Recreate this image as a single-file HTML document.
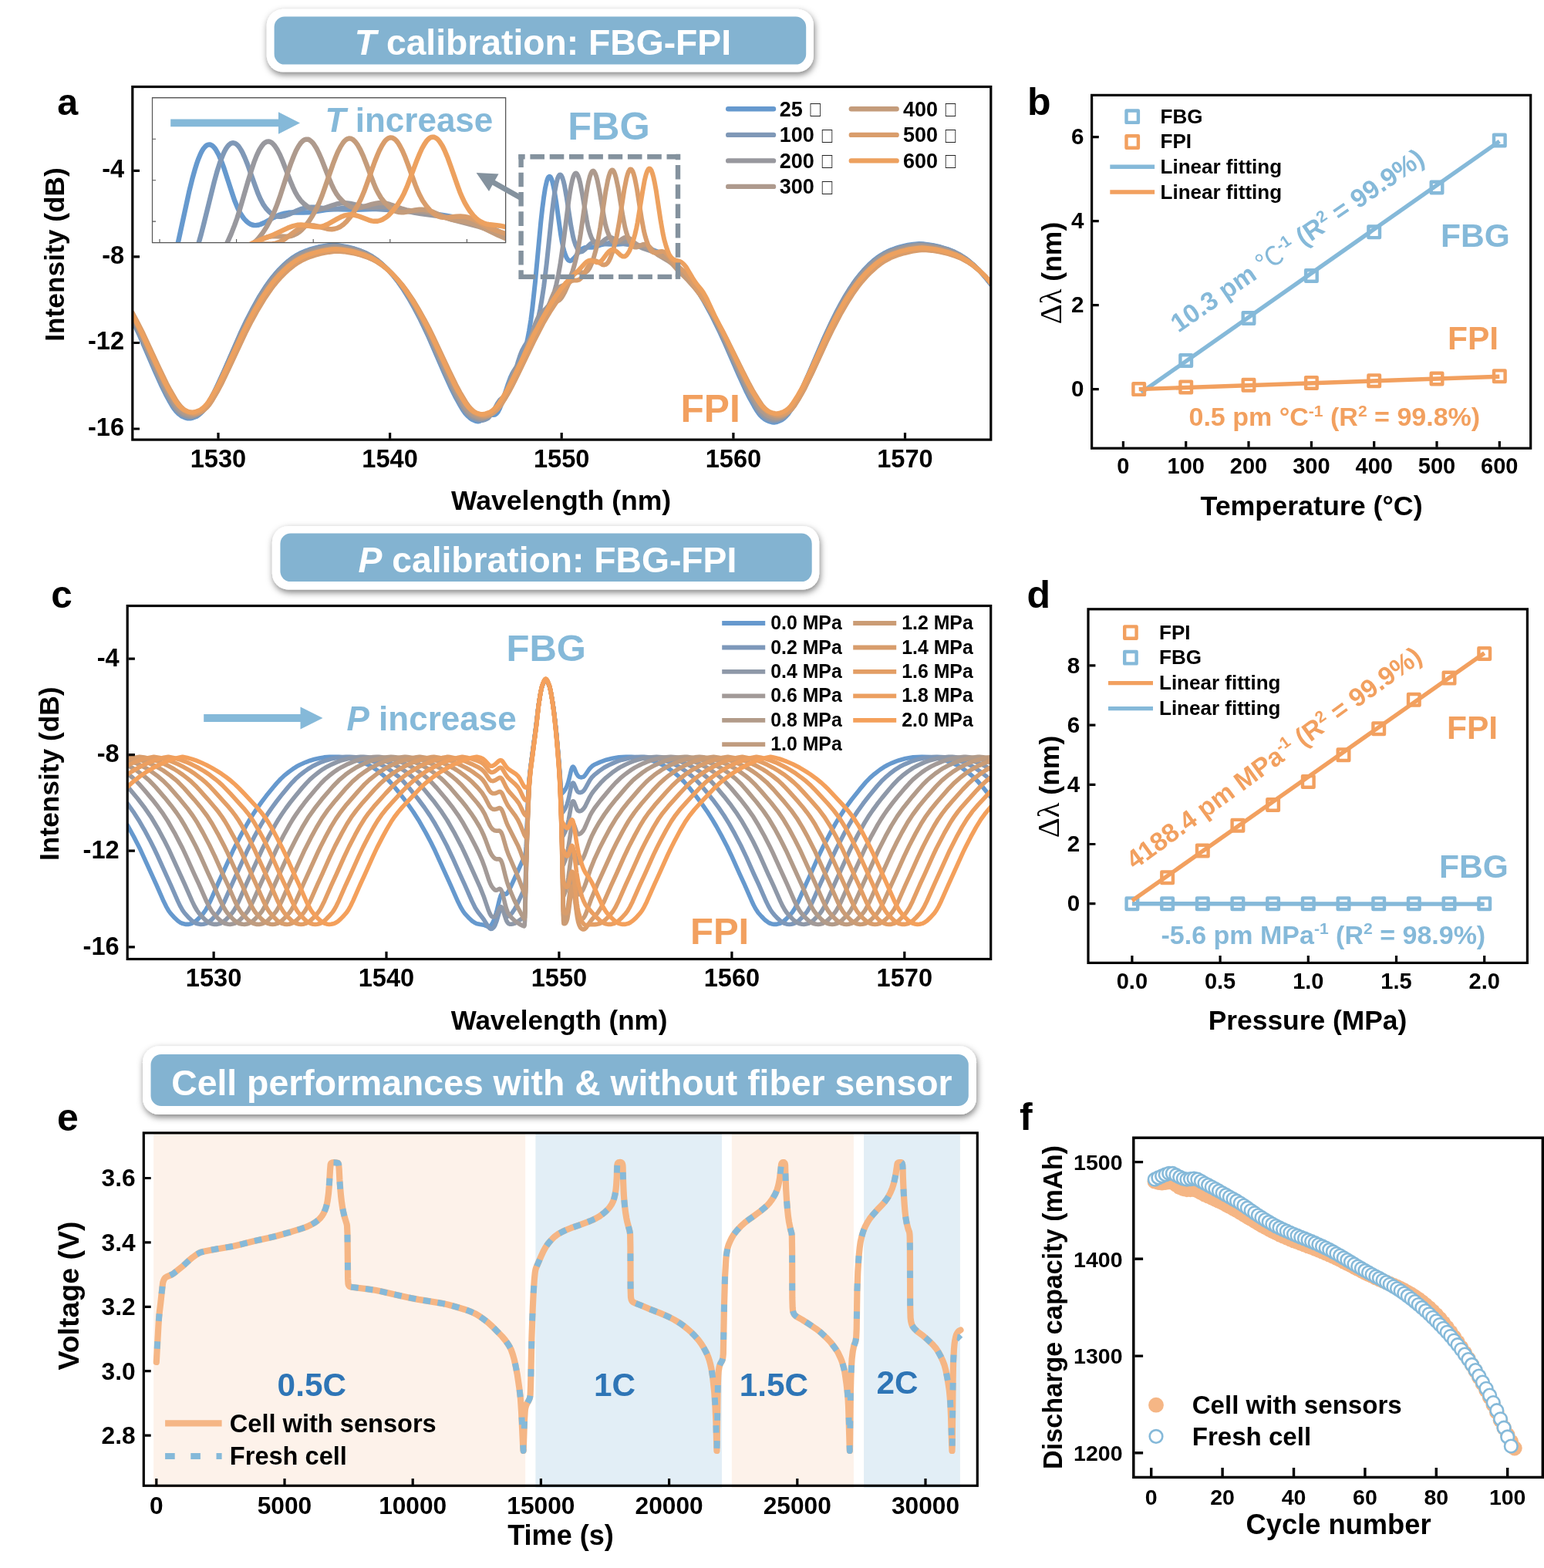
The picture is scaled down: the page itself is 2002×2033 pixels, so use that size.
<!DOCTYPE html>
<html lang="en"><head><meta charset="utf-8"><title>FBG-FPI calibration and cell performance</title>
<style>
html,body{margin:0;padding:0;background:#fff}
body{width:2002px;height:2033px;overflow:hidden}
svg{display:block}
text{font-family:"Liberation Sans",sans-serif;font-weight:bold}
</style></head><body>
<svg xmlns="http://www.w3.org/2000/svg" width="2002" height="2033" viewBox="0 0 2002 2033">
<rect width="2002" height="2033" fill="#fff"/>
<defs><filter id="sh" x="-5%" y="-40%" width="110%" height="190%"><feDropShadow dx="1.2" dy="3.6" stdDeviation="4.2" flood-color="#000" flood-opacity="0.5"/></filter></defs>
<clipPath id="ca"><rect x="171.8" y="112.5" width="1113" height="457.6"/></clipPath>
<g clip-path="url(#ca)">
<path d="M171.7 415.5L181 435.2L200.4 480.3L209.7 500.9L214.8 511.3L220.4 521.5L223.6 527L226 530.5L228.3 533.4L232 537L235.2 539.5L239.9 541.5L243.6 542.5L246.8 542.6L250.1 541.8L255.6 539.6L257.5 538.3L259.8 536.3L262.6 533.6L264.4 531.3L266.8 528L269.1 524.2L276.5 510.8L281.1 501.3L290.4 480.9L311.8 431.9L319.6 415.4L326.6 401.8L336.3 384.3L344.7 371.2L348.9 365.3L352.6 360.4L357.7 354.2L362.3 349.1L368.3 343.2L373.9 338.3L378.1 335.1L383.6 331.4L389.2 328.3L394.8 325.9L400.8 323.7L407.8 321.6L412.9 320.3L417.5 319.4L425.4 318.2L431.9 317.6L438.8 318.3L447.6 319.6L453.2 320.8L459.7 322.5L467.6 325.2L475 328.3L482 332.2L488.9 337L495.9 342.9L503.3 350.2L510.3 358.1L516.8 366.5L523.2 375.9L529.7 386.3L537.2 399.5L544.6 413.7L550.6 426.1L555.7 437.1L576.1 484L584.9 503.4L590 513.8L597.5 527.3L600.2 531.8L603 535.6L606.7 539.6L610 542.6L612.3 544.1L616.9 546.1L619.7 546.5L622 546L624.4 544.8L629.5 540.7L631.8 539.3L633.6 538.4L635.5 538L639.7 538.1L641.5 537.8L642.9 537.1L643.8 536.3L645.7 534L648 529.6L650.3 523.7L658.2 499.3L661.9 489.3L663.8 485.2L665.6 481.8L673 470.5L675.8 465.6L678.6 459.2L681.4 450.6L683.7 441.2L686 429.3L688.4 414.4L690.2 400.3L693.9 366.3L701.3 287.5L703.2 270.4L705.1 255.8L706.9 244.1L708.8 235.6L709.7 232.6L710.6 230.5L711.5 229.2L712.5 228.8L712.9 228.9L713.9 229.7L715.3 232.5L716.6 237.1L718.5 245.6L721.3 262.7L726.8 302.4L728.7 313.5L730.1 320.2L731.5 325.6L733.3 331.1L734.7 334.2L736.6 336.9L737.5 337.7L738.9 338.2L740.3 338L741.7 337.2L744.5 334.5L749.6 328L752.4 324.8L755.1 322.5L757.9 321.3L760.7 320.8L767.2 320.8L770.4 320.5L773.2 319.7L779.7 317.3L783.4 316.5L786.7 316.4L797.8 316.9L810.3 316L818.2 316.9L828 318.5L835.8 320.4L844.2 323L851.1 325.7L856.7 328.3L863.2 332.2L869.2 336.5L874.8 341.2L881.3 347.4L886.9 353.4L892.4 360.1L897.5 366.8L902.6 374.2L907.7 382.2L912.8 390.8L923 409.6L933.2 430.4L940.2 445.8L957.4 485.2L968 508.4L972.2 516.6L977.8 526.6L981 532L983.3 535.4L985.6 538.3L988.9 541.5L991.7 543.7L994 545L998.2 546.7L1000.9 547.4L1003.7 547.7L1006.5 547.3L1010.2 546L1013.5 544.6L1016.3 542.6L1019.5 539.6L1022.3 536.4L1025.1 532.4L1027.8 527.7L1035.3 513.9L1040.4 503.2L1049.2 483.4L1068.2 438.8L1077.5 418.7L1083.5 406.5L1090 394.2L1095.6 384.3L1100.7 376L1105.8 368.3L1110.4 361.8L1115.5 355.4L1120.6 349.6L1126.2 343.8L1132.2 338.2L1136.8 334.5L1141.9 331L1146.1 328.5L1150.3 326.3L1155.4 324.1L1160.5 322.2L1167 320.2L1173 318.7L1177.2 317.8L1184.1 316.7L1192 315.9L1196.7 316.3L1209.2 318L1219.4 320.3L1228.7 323.1L1237.5 326.6L1245.4 330.7L1252.8 335.6L1256.5 338.5L1261.1 342.5L1265.3 346.4L1269.5 350.5L1277.8 359.9L1284.8 368.9" fill="none" stroke="#6699CE" stroke-width="6.0" stroke-linecap="round" stroke-linejoin="round"/>
<path d="M171.7 414.3L181.4 434.9L200.9 479.6L210.2 500.1L215.3 510.4L223.6 525.2L226.4 529.4L228.7 532.3L232.4 535.9L235.7 538.3L240.3 540.3L244 541.3L247.3 541.3L250.5 540.6L256.1 538.4L258 537.1L260.3 535.2L263.1 532.4L264.9 530.2L267.2 526.9L269.6 523.1L277 509.8L281.6 500.4L290.9 480.1L312.2 431.5L320.1 415.1L327.1 401.6L336.3 385.1L340 379.1L345.1 371.3L349.3 365.4L353 360.6L358.1 354.5L362.8 349.4L368.3 344L373.9 339L378.5 335.5L383.6 332.1L389.2 329L394.3 326.7L400.8 324.3L407.8 322.2L413.3 320.8L418 319.9L425.8 318.8L432.3 318.1L439.3 318.8L447.6 320.1L453.2 321.2L459.7 322.9L467.6 325.5L475 328.6L481.5 332.1L488.5 336.7L495 342L502.4 349.1L508.4 355.6L514.9 363.5L521.9 373.2L528.8 384L535.8 396.1L543.7 410.8L549.7 422.9L555.7 435.7L576.6 483.2L585.9 503.4L591 513.7L596.5 523.7L599.8 529.2L602.6 533.2L604.9 535.9L609 539.8L612.3 542L617.9 544.2L621.6 545.1L623.4 545.1L625.3 545L629 544.1L631.3 543.1L632.7 542.2L634.1 540.9L635.9 538.7L639.7 532.9L645.2 522.7L648 518.8L650.3 516.7L654 514.6L655.9 513.2L657.7 511L659.1 508.6L661 504.6L663.3 498.1L671.7 469.2L674 462.1L675.8 457.3L677.7 453.1L680 449L682.3 445.5L687.4 438.7L690.2 434.2L693 428.2L695.8 420.2L698.1 411.6L700.4 400.8L702.7 387.6L705.1 371.9L708.8 341.5L715.7 276L717.6 260.9L719.4 248.1L721.3 238.1L723.1 231.1L724.1 228.8L725 227.3L725.5 226.8L726.4 226.6L726.8 226.7L727.8 227.6L729.2 230.4L730.6 234.8L732 240.7L734.7 256.1L740.3 292.6L743.1 307.1L744.5 312.4L746.3 317.8L748.2 321.8L750 324.6L751.4 325.8L752.8 326.4L754.2 326.3L755.6 325.7L758.4 323.5L763.5 318.1L765.8 316L768.1 314.5L770.4 313.7L772.3 313.6L774.2 313.8L780.6 315.6L783.9 316.1L787.1 315.7L792.2 314.3L794.6 313.9L796.9 313.7L799.2 313.9L807.5 315.7L829.8 319.8L839.1 322.2L846 324.5L853.9 327.7L860.4 331.1L867.4 335.6L873.9 340.8L879.9 346.4L884.5 351.1L889.6 356.8L894.7 363L899.8 369.9L905.4 378.2L910 385.5L914.7 393.5L924 410.5L934.2 431.2L941.1 446.4L957.8 484.3L968 506.3L972.7 515.3L981 529.8L983.3 533.3L985.6 536.2L989.4 539.8L992.1 542.1L994.5 543.4L999.1 545.1L1001.9 545.8L1004.2 545.9L1007 545.5L1010.7 544.3L1013.9 542.9L1016.7 541L1020 537.9L1022.7 534.8L1025.5 530.8L1028.3 526.2L1035.7 512.5L1040.8 501.9L1049.6 482.3L1068.7 438.1L1077.9 418.2L1084 406.1L1090.5 394L1096 384.2L1101.1 376L1106.2 368.3L1110.9 361.9L1116 355.6L1121.1 349.8L1126.6 344.1L1132.7 338.6L1137.3 334.9L1142.4 331.4L1146.6 328.9L1150.8 326.8L1155.9 324.6L1161 322.7L1167 320.9L1173 319.3L1177.7 318.4L1184.1 317.4L1192.5 316.5L1196.7 316.8L1209.7 318.5L1219.4 320.7L1228.7 323.4L1237.5 326.8L1244.9 330.7L1252.8 335.7L1256.5 338.5L1261.1 342.5L1269.5 350.4L1277.8 359.6L1284.8 368.4" fill="none" stroke="#7F98B7" stroke-width="6.0" stroke-linecap="round" stroke-linejoin="round"/>
<path d="M171.7 412.6L181.9 433.8L201.8 479L211.1 499.2L216.2 509.4L224.6 524.1L227.3 528.2L229.7 531L233.4 534.6L236.6 537L241.3 538.9L245 539.9L248.2 540L251.5 539.2L257 537L258.9 535.8L261.2 533.8L264 531.1L265.8 528.9L268.2 525.6L270.5 521.9L277.4 509.6L282.1 500.4L291.3 480.4L313.1 431.3L321 415.1L328 401.7L337.3 385.4L341 379.5L346.1 371.8L350.2 366L354 361.2L359.1 355.2L363.7 350.1L369.7 344.3L375.3 339.5L379.5 336.4L385 332.8L390.6 329.8L396.2 327.4L402.2 325.2L409.2 323.2L414.3 321.9L418.9 321L426.8 319.9L433.3 319.2L440.2 319.9L449 321.2L454.6 322.4L461.1 324.1L469 326.7L476.4 329.8L482.9 333.3L489.9 337.9L496.3 343.3L503.8 350.3L510.3 357.4L516.8 365.4L523.2 374.4L530.2 385.2L537.6 398L545 411.8L551.1 423.8L556.6 435.5L577.5 482.4L586.8 502.5L591.9 512.5L600.2 527.1L603 531.2L605.3 534.1L609.5 538L612.8 540.3L617.4 542.2L621.1 543.2L624.4 543.2L627.6 542.5L632.2 540.6L634.1 539.6L636.9 537.5L640.1 534.5L642.4 531.9L644.8 528.9L649.9 520.7L653.1 514.6L655.4 509.6L657.7 503.9L663.8 487.7L666.6 481.4L668.4 478.2L670.3 475.5L675.4 470L677.2 467.7L679.1 464.7L680.5 461.9L682.3 457.3L684.2 451.8L692.1 425.5L694.4 419L696.7 413.7L699 409.5L701.3 406.3L703.2 404.4L708.3 399.7L711.1 396.3L713.9 391.5L716.2 386.1L719 377.7L721.3 368.9L724.1 355.8L726.4 342.9L730.1 317.5L737.1 262.4L738.9 249.9L740.3 241.9L742.2 233.4L743.5 228.8L744.5 226.7L745.4 225.3L745.9 224.9L746.8 224.6L747.3 224.8L748.2 225.6L749.6 228.2L751 232.2L752.4 237.7L755.1 251.9L760.7 285.1L762.1 292.2L763.5 298.1L764.9 302.7L766.7 307.6L768.6 311.4L770.4 314.3L771.8 315.8L773.2 316.7L774.6 317L776 316.8L777.4 316.2L778.8 315.3L783.9 311L786.2 309.4L788.5 308.3L790.9 308L792.7 308.2L794.6 308.8L801.1 312.3L804.3 313.4L807.1 313.6L811.7 313.1L813.1 313.1L815.4 313.4L817.3 313.8L820.5 315.2L827.5 319L831.7 321.1L835.8 322.7L848.8 327.1L854.4 329.4L859 331.8L865.1 335.4L870.2 338.9L875.7 343.4L882.2 349.4L886.9 354.2L892 359.9L896.1 365L900.8 371.2L905.9 378.6L910 385.1L914.7 392.8L920.2 402.6L927.7 416.5L936 433.3L958.3 482.5L968.5 504.2L973.1 513.1L981.5 527.5L984.3 531.6L986.6 534.5L989.8 537.6L992.6 539.9L994.9 541.3L999.6 543.1L1002.3 543.8L1005.1 544L1008.4 543.5L1012.1 542.2L1014.9 541L1017.6 539L1020.9 536L1023.7 533L1026.5 529L1029.2 524.4L1036.2 511.8L1041.8 500.5L1050.6 481.1L1069.6 437.6L1078.4 418.8L1084.4 406.9L1090.5 395.7L1096.5 385.1L1101.6 376.9L1106.7 369.4L1111.3 363L1116.4 356.7L1121.5 350.9L1126.6 345.7L1133.1 339.8L1137.8 336L1142.9 332.6L1147 330.1L1151.2 327.9L1155.9 325.9L1160.5 324.2L1165.6 322.6L1172.6 320.7L1177.2 319.7L1182.8 318.8L1190.6 317.8L1193.4 317.6L1194.8 317.7L1201.3 318.3L1209.2 319.4L1218.5 321.3L1228.7 324.2L1237.5 327.5L1245.4 331.4L1253.3 336.3L1261.1 342.5L1269.5 350.2L1277.8 359.2L1284.8 367.8" fill="none" stroke="#98989E" stroke-width="6.0" stroke-linecap="round" stroke-linejoin="round"/>
<path d="M171.7 410.1L177.7 422L183.3 433.6L203.7 479.2L212.5 498L217.6 508.1L226 522.6L228.7 526.7L231.1 529.5L234.8 533.1L238 535.5L242.7 537.4L246.4 538.4L249.1 538.6L252.4 538L258 535.9L259.8 534.8L262.1 533L265.4 529.9L267.2 527.8L269.6 524.6L271.9 521L279.3 508L283.9 498.9L293.2 479.2L314.5 431.9L322.4 415.9L329.4 402.7L339.1 385.9L342.8 380L347.9 372.5L352.1 366.8L356.3 361.6L360.9 356.2L365.6 351.3L371.6 345.6L377.1 340.9L381.3 337.8L386.9 334.4L392.5 331.4L398 329.1L404.5 326.8L411.5 324.9L417 323.6L422.1 322.7L429.6 321.7L435.1 321.2L442.1 321.9L450.9 323.2L456.5 324.4L463.4 326.2L471.3 328.8L478.3 331.7L484.7 335.2L491.2 339.5L497.7 344.7L505.2 351.6L511.6 358.5L518.1 366.4L524.6 375.3L531.6 385.8L538.5 397.6L546.4 411.9L552.5 423.7L558 435.2L578.9 481.4L588.2 501.1L593.3 511.1L601.6 525.5L604.4 529.5L607.2 532.9L610.9 536.3L614.1 538.6L619.2 540.7L623 541.6L626.2 541.5L629.5 540.8L635 538.5L636.9 537.3L639.2 535.4L642 532.7L643.8 530.5L646.1 527.3L648.5 523.7L657.7 507.2L671.7 479L677.2 465.9L686 442.5L689.3 435.3L691.1 432.1L693 429.6L698.6 424.4L700.4 422.3L702.3 419.6L704.1 416.1L707.4 408.2L714.3 388.7L716.2 384.2L718 380.4L720.4 376.8L721.7 375.1L723.1 373.8L725.9 372L731.5 369.5L734.3 367.5L735.7 365.9L737.1 364L739.8 358.6L742.6 351.2L744.9 343.2L747.3 333.8L749.6 322.7L752.8 303.4L759.8 254.4L761.6 243.2L763 236L764.9 228.6L766.3 224.7L767.7 222.3L768.6 221.7L769.1 221.6L769.5 221.7L770.4 222.5L771.8 224.9L773.2 228.8L774.6 234L777.4 247.9L783.4 283.2L784.8 289.9L786.2 295.5L787.6 300L789.5 304.8L791.3 308.6L793.2 311.6L794.6 313.2L796 314.2L797.3 314.6L798.7 314.6L800.1 314.1L801.5 313.4L806.2 310.1L808.5 308.7L810.8 307.9L813.1 307.8L815 308.5L816.8 309.6L823.8 315.5L827 317.5L830.3 318.6L836.8 319.6L840 320.9L843.7 323.1L853.5 330.6L866 338.1L872 342.3L876.7 346L882.2 351L886.4 355.1L891 360L895.7 365.3L899.4 369.9L908.2 382.1L915.6 393.7L924.4 408.9L931.4 421.9L938.3 435.8L959.7 481.8L968.9 501L974 510.8L981 522.7L983.8 527L986.1 530.3L988.4 533L991.2 535.6L993.5 537.5L995.8 539L1001.9 541.2L1005.1 541.9L1008.4 541.8L1011.6 540.9L1016.3 539.1L1019 537.2L1022.3 534.3L1024.6 531.9L1027.4 528.2L1032.5 519.8L1037.6 510.7L1040.4 505.3L1051 482.6L1068.7 442.9L1075.6 427.8L1081.6 415.6L1086.8 405.8L1092.8 394.9L1097.9 386.2L1103.4 377.4L1109.5 368.7L1114.6 362L1120.6 354.9L1126.6 348.6L1133.6 342.2L1139.2 337.8L1144.7 334.1L1148.9 331.7L1152.6 329.8L1157.2 327.8L1161.9 326.1L1167 324.5L1173.5 322.8L1178.6 321.6L1183.7 320.8L1190.2 320L1195.3 319.5L1201.3 320.1L1208.3 321L1213.4 321.8L1218.9 323L1229.1 325.7L1238.4 329L1245.8 332.5L1253.7 337.2L1261.1 342.8L1269.9 350.6L1277.8 358.7L1284.8 367" fill="none" stroke="#AE9A8D" stroke-width="6.0" stroke-linecap="round" stroke-linejoin="round"/>
<path d="M171.7 406.6L178.2 418.8L185.1 432.8L206.5 479.2L215.8 498.6L220.4 507.4L228.3 520.8L231.1 524.9L233.4 527.8L237.1 531.3L240.3 533.7L244.5 535.5L248.7 536.7L251.5 537L254.7 536.5L260.7 534.3L262.6 533.2L264.9 531.4L268.2 528.4L270 526.3L272.3 523.2L274.7 519.6L282.1 506.9L286.7 498.1L296 478.8L317.3 432.6L325.2 417L332.2 404.2L341.9 387.8L345.6 382.1L350.7 374.8L354.9 369.2L359.1 364.1L364.2 358.4L368.8 353.7L374.8 348.2L380.4 343.6L385 340.4L390.6 337.1L396.2 334.3L402.2 332L408.2 330L415.6 328L420.7 326.9L425.8 326.1L431.9 325.3L437.4 324.8L444.9 325.5L453.7 326.8L459.7 328.1L467.1 330L474.5 332.5L481.5 335.4L488 338.8L494.5 343.1L501 348.2L508.4 355L514.9 361.9L521.4 369.6L527.9 378.4L534.8 388.7L542.3 401.1L549.7 414.4L555.7 425.9L560.8 436.2L581.7 481.3L591 500.5L596.1 510.2L604.4 524.2L607.2 528.1L609.5 530.9L613.7 534.7L616.9 536.9L621.6 538.7L625.3 539.7L628.5 539.7L631.8 539.1L636.4 537.4L638.7 536.2L641.5 534.1L645.2 530.6L647.5 527.8L650.3 523.9L658.2 510.9L663.3 501.4L671.2 485.5L687.9 450.2L701.8 422.7L710.6 403.5L712.5 399.9L714.3 397L715.7 395.2L717.6 393.3L719.4 392.1L723.1 390.3L725 389.2L726.8 387.5L728.2 385.8L730.1 382.9L732 379.4L739.8 362.3L742.2 358.3L744.5 355.5L746.3 354L748.6 353.1L751 352.9L756.5 353.5L757.9 353.4L759.3 352.9L761.2 351.7L762.6 350.2L764 348.3L765.3 345.8L767.7 340.5L770 333.5L772.8 323.4L775.1 313.1L778.3 294.8L785.3 248.4L788.1 233.7L789.5 228.2L790.9 224.1L792.2 221.5L793.2 220.7L793.6 220.5L794.6 220.7L796 222.4L797.3 225.6L798.7 230.3L801.5 243.3L807.5 279.9L810.3 294.3L812.2 301.5L814 307L816.8 313.5L818.7 316.8L819.6 318.1L821 319.5L822.4 320.3L823.8 320.6L825.2 320.5L826.6 320.1L831.7 317.7L833.5 317L835.8 316.8L838.2 317.4L840 318.4L841.9 319.9L848.8 327L852.1 329.6L854.9 331.1L861.3 333.3L864.1 334.9L866.4 336.7L868.8 339L879 350.5L892 363.5L899.8 372.2L907.3 381.7L914.7 392.3L922.1 404L930 417.5L936 428.5L941.6 439.3L962.5 482.3L971.3 499.8L976.4 509.2L982.9 519.9L988 527.5L990.3 530.2L992.6 532.5L995.4 534.8L997.7 536.4L999.6 537.3L1003.7 538.8L1007.4 539.6L1010.2 539.6L1013.9 538.8L1018.6 537L1021.4 535.3L1024.1 533L1026.9 530.2L1029.7 526.7L1034.8 518.7L1039.9 509.8L1043.2 503.7L1053.8 481.6L1071 444L1078.4 428.3L1089.1 407.8L1095.1 397.1L1100.2 388.6L1105.8 380L1111.8 371.5L1116.9 364.9L1122.5 358.5L1128.5 352.3L1135.4 346L1141 341.5L1146.6 337.8L1154.5 333.5L1162.3 330.3L1167 328.8L1172.6 327.2L1182.3 325L1191.1 323.8L1198.1 323.2L1208.3 324.2L1218.5 325.8L1229.6 328.5L1238.9 331.5L1246.8 334.9L1254.6 339.3L1261.6 344.1L1270.4 351.4L1277.4 358.1L1284.8 366.2" fill="none" stroke="#C49C7B" stroke-width="6.0" stroke-linecap="round" stroke-linejoin="round"/>
<path d="M171.7 405.5L178.6 418.4L185.6 432.2L206.9 478.1L216.2 497.3L220.9 506.1L228.7 519.5L231.5 523.5L234.3 526.9L238 530.4L240.8 532.4L242.2 533.2L245 534.3L249.1 535.5L251.9 535.8L255.2 535.3L261.2 533.2L263.1 532.2L265.4 530.4L268.6 527.5L270.5 525.5L272.8 522.4L275.1 518.9L282.5 506.4L287.2 497.6L296.4 478.5L318.2 431.9L326.1 416.5L333.1 403.8L342.8 387.6L351.6 374.8L355.8 369.3L360 364.2L364.6 359.1L369.3 354.4L375.3 348.9L380.9 344.4L385 341.5L391.1 337.9L396.6 335.2L402.7 332.8L408.7 330.8L416.1 328.9L421.2 327.8L426.8 326.9L433.3 326.1L438.4 325.7L445.8 326.4L454.6 327.7L460.6 328.9L468.1 330.9L475.5 333.3L482.4 336.2L488.9 339.7L495.4 343.9L501.9 349.1L509.3 355.8L515.8 362.6L521.9 369.7L528.3 378.4L535.3 388.6L542.7 400.8L550.1 413.9L556.2 425.3L561.7 436.5L582.1 480.1L591.4 499.1L596.5 508.7L604.9 522.7L607.7 526.6L610.4 529.8L614.1 533.2L617.4 535.5L622.5 537.5L626.2 538.3L629.5 538.3L632.7 537.6L636.9 536.2L638.7 535.3L641 533.7L644.3 530.9L646.1 529.1L648.5 526.3L654 517.9L660.1 507.8L665.2 498.2L673.5 481.5L693.5 440L704.1 419.6L708.8 411.5L712.9 404.6L725.5 385.7L733.3 372.6L736.1 368.5L738.9 365.6L741.2 364.2L743.5 363.6L747.3 363.6L749.1 363.3L751 362.6L752.8 361.2L754.2 359.7L756.1 357L761.6 347.3L764 343.6L766.3 340.7L768.6 338.9L769.5 338.5L770.9 338.2L773.2 338.5L775.1 339.4L780.6 342.8L782 343.3L783.4 343.4L785.3 342.9L786.7 342L788.1 340.5L789.5 338.4L791.8 333.6L794.6 325.8L797.3 316L799.7 306.1L802.9 288.1L809.4 246L812.2 231.8L813.6 226.4L815 222.5L816.4 220.2L816.8 219.7L817.8 219.4L818.7 219.8L820.1 221.7L821.5 225.2L822.9 230.1L824.2 236.3L826.1 246.3L832.1 284.6L834.9 299.5L836.8 306.9L838.6 312.9L840.9 319L842.8 322.7L843.7 324.2L845.1 325.8L846.5 326.9L847.9 327.5L849.3 327.6L850.7 327.5L855.8 326.2L858.1 326L860.4 326.4L862.7 327.6L864.6 329.2L866.4 331.1L872.9 339.4L876.2 343.1L879 345.6L886.4 351.1L888.7 353.4L891 356.3L894.3 361L903.6 375.5L917.5 395.8L924 406.2L930 416.5L936.5 428.2L942 438.8L962.9 481.1L971.7 498.3L976.8 507.7L982.4 516.7L988 525.1L990.3 527.9L992.1 529.8L995.4 532.6L998.2 534.6L1000 535.5L1003.7 536.8L1007.4 537.8L1010.7 537.9L1014.4 537.1L1019 535.4L1021.8 533.8L1025.1 531.1L1027.8 528.3L1030.6 524.8L1036.2 516L1040.8 508L1044.1 502L1054.3 481L1071.9 442.8L1078.9 428.4L1089.5 408L1095.6 397.4L1100.7 389L1105.8 381.1L1112.3 372L1117.4 365.5L1122.9 359.2L1129 353L1135.9 346.7L1141.5 342.3L1147 338.6L1154.9 334.3L1162.8 331.1L1172.6 328.2L1182.8 325.9L1191.6 324.6L1198.5 324L1208.3 324.9L1218.5 326.5L1229.6 329.1L1238.9 332.1L1246.8 335.3L1254.6 339.6L1261.6 344.2L1270.4 351.4L1277.4 358L1284.8 365.9" fill="none" stroke="#D99D6B" stroke-width="6.0" stroke-linecap="round" stroke-linejoin="round"/>
<path d="M171.7 408.2L177.7 419.7L183.7 431.9L204.2 476.2L213.4 495.6L218.5 505.3L226.4 518.7L229.2 522.7L231.5 525.5L235.2 529L238.5 531.4L243.1 533.3L246.8 534.3L249.6 534.5L252.9 534L258.9 531.8L260.7 530.7L263.1 528.9L265.8 526.3L267.7 524.3L270 521.2L272.8 517L279.8 505.1L284.4 496.3L293.7 477.1L315.5 430.1L323.3 414.6L330.3 401.8L340 385.4L348.9 372.5L353 367L357.2 361.9L361.8 356.7L366.5 352L372.5 346.4L378.1 341.9L382.3 338.9L388.3 335.3L393.4 332.7L399.4 330.3L405.4 328.3L412.9 326.3L418 325.1L423.1 324.3L430 323.3L435.6 322.9L442.5 323.5L451.4 324.8L457.4 326L464.3 327.8L472.2 330.4L479.2 333.2L485.7 336.7L492.2 340.8L498.7 345.9L506.1 352.7L512.6 359.4L519.1 367.1L525.6 375.8L532.5 386.1L539.9 398.3L547.4 411.5L553.4 423L559 434.2L579.4 478.1L588.6 497.3L593.7 507L602.1 521L604.9 525L607.7 528.3L611.4 531.7L614.6 534L619.2 535.9L623 536.9L626.2 537L629.5 536.4L635.5 534.2L637.8 532.7L640.1 530.8L642.9 528.1L644.8 526L647.5 522.2L650.3 517.8L656.8 506.9L661.9 497.2L670.7 479.2L691.1 435.9L697.2 424L703.7 411.9L712 397.4L719.4 385.7L727.3 374.6L734.3 366L740.3 359.7L750.5 350.1L758.4 341.5L761.2 339.1L763.5 337.9L765.8 337.5L768.1 338L773.7 340.2L775.5 340.3L777.4 339.8L779.3 338.6L781.1 336.7L786.7 329.3L789 326.6L790.9 325L792.2 324.2L793.2 323.9L794.6 323.8L796 324L797.3 324.7L799.7 326.3L804.8 330.9L806.6 332.1L808 332.6L809.9 332.5L811.3 331.8L812.7 330.6L814.5 328.1L816.4 324.7L818.7 319L821 312.2L823.3 304L825.2 295.9L826.6 288.7L833.1 248.7L835.8 233.8L837.7 226.3L839.1 222.2L840.5 219.6L841.4 218.8L841.9 218.6L842.8 218.8L843.3 219.1L844.7 221.2L846 224.9L847.4 230L848.8 236.5L850.7 246.8L856.7 286.6L859.5 302.5L861.3 310.8L863.7 319.3L866 326L867.8 330.1L870.2 333.7L872.5 335.9L875.3 337.3L880.4 338.6L882.7 339.5L885 341.1L887.3 343.3L889.2 345.6L891 348.4L898 360.3L901.2 365.4L904 369.2L909.6 376L911.9 379.3L914.2 383.2L917 388.5L927.7 411.4L941.6 439.2L960.6 479L968.9 495.7L974 505.2L982.9 519.6L985.6 523.6L988 526.4L991.7 530L994.9 532.5L997.2 533.7L1000.9 535.1L1004.7 536L1007.9 536.2L1011.6 535.4L1016.3 533.7L1019 532.1L1022.3 529.5L1025.1 526.7L1027.8 523.2L1033.4 514.4L1038.1 506.3L1041.3 500.3L1052 478.3L1069.1 440.9L1076.1 426.3L1082.1 414.5L1087.2 405L1093.2 394.4L1098.3 385.9L1103.9 377.4L1109.9 369L1115 362.5L1121.1 355.7L1127.1 349.5L1134.5 343L1140.1 338.7L1145.7 335.1L1149.8 332.8L1153.5 331L1158.2 329.1L1162.8 327.5L1167.9 325.9L1174.4 324.3L1179 323.3L1184.1 322.5L1190.2 321.7L1195.7 321.2L1207.8 322.4L1213.4 323.3L1218.9 324.4L1229.6 327.1L1238.9 330.3L1246.3 333.7L1254.2 338.3L1261.1 343.3L1269.9 350.8L1277.4 358.2L1284.8 366.6" fill="none" stroke="#EDA15F" stroke-width="6.0" stroke-linecap="round" stroke-linejoin="round"/>
</g>
<clipPath id="ci"><rect x="197.5" y="126.7" width="458.1" height="187.9"/></clipPath>
<rect x="197.5" y="126.7" width="458.1" height="187.9" fill="#fff" stroke="#555" stroke-width="1.1"/>
<g clip-path="url(#ci)">
<path d="M182.1 419.5L187.4 415.7L191.9 411.9L195.9 407.6L200 402.5L203.7 396.8L207.3 390.2L210.6 383.2L213.8 375.2L216.7 367.2L219.9 357L223.2 345.7L226.4 333.2L231.7 310.7L245.1 249.1L249.2 232.4L252.9 219.2L255.3 211.5L257.3 205.9L259.4 200.9L261.4 196.7L263.8 192.7L265.9 190.2L267.9 188.5L269.9 187.6L271.6 187.4L273.2 187.7L274.8 188.6L276.9 190.3L278.5 192.1L280.1 194.5L283.8 201.3L287 208.9L290.3 217.7L300.9 250.3L304.1 259.7L307.8 268.8L311 275.5L314.7 281.3L316.7 283.9L318.8 286.1L320.8 288L322.8 289.5L324.9 290.7L326.9 291.5L329.3 292L331.8 292.1L334.6 291.8L337.5 291L342.7 288.7L354.9 282L361 279.1L364.3 277.9L367.6 277L374.1 275.8L380.2 275.4L393.6 275.5L400.5 275.3L407 274.5L422.5 272L431.8 271.3L438.3 271.3L461.9 271.8L490.4 270.9L505 271.6L531.5 273.5L556.7 276.3L567.7 277.8L578.6 279.6L588 281.4L596.9 283.4L606.3 285.8L615.6 288.5L623.4 291L631.5 293.9L642.5 298.3L651.4 302.1L660.8 306.4L670.1 311.1" fill="none" stroke="#6699CE" stroke-width="6.4" stroke-linecap="round" stroke-linejoin="round"/>
<path d="M182.1 414.8L185.8 410.2L189 406.5L192.3 403.3L195.5 400.6L202 396L213.4 389.5L217.5 387L221.5 384L225.6 380.5L229.7 376.2L233.8 371L237.4 365.4L241.1 358.9L245.1 350.3L249.2 340.3L253.3 328.9L257.3 316L260.6 304.5L263.8 292.1L277.7 236L281.3 222.8L285 211.2L289.1 200.6L291.1 196.2L293.1 192.6L295.2 189.7L297.2 187.5L298.8 186.3L300.9 185.4L302.5 185.3L304.1 185.6L305.7 186.4L307.4 187.6L309 189.3L310.6 191.4L312.2 193.9L314.3 197.6L317.5 204.6L320.8 212.7L331 241.4L334.6 251.1L337.9 258.6L341.1 264.6L344.8 270L348.8 274.4L351.3 276.5L353.3 278L355.4 279.1L357.4 280L359.8 280.6L362.3 280.9L365.1 280.7L368 280.2L373.7 278.3L385.4 273L391.1 270.8L397.2 269.2L403.3 268.6L409.9 268.8L424.1 270.6L431 271L437.9 270.7L454.2 268.9L458.7 268.7L463.9 268.8L500.1 271.9L535.1 274.6L558.3 277.3L576.6 280.1L592.5 283.1L608.3 287L622.6 291.2L638 296.8L654.3 303.6L670.1 311.2" fill="none" stroke="#7F98B7" stroke-width="6.4" stroke-linecap="round" stroke-linejoin="round"/>
<path d="M182.1 421.1L189 418L193.5 415.5L197.6 412.5L201.6 408.7L204.9 405L208.5 400.2L220.7 382.4L225.6 375.8L230.9 369.5L236.2 364.3L240.7 360.8L245.5 357.8L250.4 355.6L262.6 350.7L266.3 348.9L269.9 346.6L274 343.6L278.1 339.7L281.7 335.6L285.4 330.7L290.3 322.9L294.8 314.3L299.6 303.6L304.1 292.2L307.4 283L311 271.4L321.6 235L325.7 221.6L329.3 210.7L332.6 202.2L336.2 194.4L339.5 189.2L341.5 186.7L343.2 185.2L344.8 184.2L346.4 183.6L348 183.4L349.7 183.7L351.3 184.4L352.9 185.5L354.5 187.1L356.2 189L359.8 194.6L363.1 201L366.3 208.5L376.1 233.7L379.8 242.6L383 249.4L386.3 255L389.9 259.9L394.4 264.4L399.3 268.2L401.7 269.7L403.8 270.6L406.2 271.3L409 271.8L411.9 271.8L414.7 271.5L420 270.1L431 266.2L435.9 264.7L441.2 263.6L446 263.2L450.1 263.4L454.2 263.9L469.2 267.3L476.1 268.4L483.1 268.6L493.2 268.2L496.9 268.2L502.2 268.4L507.5 269.1L514 270.3L528.2 273.7L536.7 275.5L545.7 277.1L568.1 280.2L581.5 282.4L594.9 285L608.3 288.3L623 292.5L637.6 297.6L654.3 304.3L670.1 311.6" fill="none" stroke="#98989E" stroke-width="6.4" stroke-linecap="round" stroke-linejoin="round"/>
<path d="M182.1 425L192.3 414.7L210.6 393.8L217.1 387.1L221.5 383.5L226 380.6L230.1 378.6L239 375.2L242.7 373.6L246.8 371.3L250.8 368.3L254.9 364.6L259 360.2L271.6 345L276 339.9L280.5 335.4L284.6 332L287.4 330L290.3 328.4L293.1 327L296 326L301.3 324.5L314.3 322.1L317.9 321L321.2 319.7L324.9 317.8L328.5 315.2L332.2 312.1L335.4 308.7L340.7 301.9L346 293.6L351.3 283.7L355.8 274L359 265.9L362.7 255.7L373.2 223.3L376.9 212.6L380.6 203L383.8 195.6L387.1 189.5L390.3 184.9L392 183.2L393.6 181.9L395.2 181.1L396.4 180.7L398.1 180.6L399.7 180.8L401.3 181.5L403.3 183L405 184.6L406.6 186.6L410.3 192.3L413.1 197.9L416.4 205.2L426.5 231L429.8 238.8L433 245.7L436.3 251.3L439.9 256.3L444.4 261L448.9 264.8L453.4 267.5L455.8 268.5L458.7 269.3L461.5 269.6L464.3 269.6L467.2 269.2L470 268.5L482.2 264.9L487.9 263.6L491.2 263.1L494.4 263L496.9 263.1L500.1 263.6L505.8 265.2L520.1 270.3L527 272.3L534.3 273.4L550.6 274.5L555 275.2L559.5 276.2L565.6 278L579.4 282.6L586.8 284.9L621.3 293.9L632.3 297.4L645.3 302.2L657.9 307.3L670.1 312.7" fill="none" stroke="#AE9A8D" stroke-width="6.4" stroke-linecap="round" stroke-linejoin="round"/>
<path d="M182.1 430.4L203.2 411L216.3 399.5L247.2 373.3L266.3 355.4L270.8 351.7L274.8 348.8L278.9 346.5L283 344.9L287 343.7L298.8 341.1L302.9 339.7L306.6 337.8L310.6 335.1L314.7 331.8L327.7 319.4L333 314.8L337.9 311.3L342.7 308.7L347.6 307.1L352.5 306.4L357.4 306.3L369.6 306.8L373.2 306.6L376.5 306.1L380.6 304.9L384.2 303.2L387.9 300.9L391.1 298.1L395.6 293.4L400.5 286.9L405.4 279.3L409.9 271.3L413.9 262.6L417.6 253.5L421.2 243.4L431.8 212.6L435.1 204L437.9 197.3L441.6 190.1L444.8 185.1L446.9 182.7L448.5 181.3L450.1 180.3L451.7 179.7L453 179.5L454.6 179.6L456.2 180.2L457.8 181.1L460.7 183.8L463.9 188.2L467.2 194.1L470.9 202.1L474.5 211.2L484.7 238L487.5 244.7L490.4 250.4L494 256.5L498.5 262.2L501.4 265.3L504.6 268.4L507.1 270.4L509.5 272L511.9 273.4L514.8 274.4L517.6 275.1L520.5 275.3L523.3 275.2L526.2 274.9L538 272.5L543.7 271.8L546.9 271.7L549.8 271.9L552.6 272.3L555.9 273L562 275.1L576.2 281.4L583.1 283.8L590 285.4L605.5 287.7L610.4 288.9L614.8 290.4L623 293.8L646.1 305L670.1 315.2" fill="none" stroke="#C49C7B" stroke-width="6.4" stroke-linecap="round" stroke-linejoin="round"/>
<path d="M182.1 431.2L205.7 410L228.5 389.9L240.3 380L253.7 369.3L263.4 362L273.6 354.9L282.1 349.2L300 337.8L318.3 324.9L324.9 320.9L330.1 318.5L335.4 317.1L340.3 316.5L349.7 316.4L353.3 316.2L357.4 315.6L361 314.4L364.7 312.7L368.8 310.3L381.8 300.5L387.1 297L392 294.5L396.8 292.8L401.7 292.2L406.6 292.4L411.5 293.3L423.7 296.5L426.9 297L430.2 297.2L433.8 296.8L437.5 295.7L441.2 294L444.4 291.7L446.9 289.6L449.3 287.2L454.2 281.3L459.5 273.7L464.3 265.4L468 258L472.1 248.3L475.7 238.4L485.9 209.8L489.2 201.5L492 195L495.3 188.7L498.5 183.8L500.1 181.9L501.8 180.4L503.4 179.3L505 178.7L506.6 178.4L508.3 178.6L509.9 179.2L511.5 180.2L513.2 181.7L514.8 183.5L516.4 185.7L518.4 189L521.7 195.3L525.4 203.8L529 213.4L538.8 240.3L541.6 247.4L544.5 253.6L548.1 260.3L552.6 266.8L557.5 272.6L562 276.7L564.8 278.7L567.7 280.2L570.9 281.3L574.2 281.9L577 282L579.9 282L591.6 280.7L596.9 280.5L602.2 280.9L607.5 282L611.6 283.5L615.6 285.3L630.7 293.6L637.6 296.9L644.1 299.3L660 304.3L664.9 306.4L670.1 309.1" fill="none" stroke="#D99D6B" stroke-width="6.4" stroke-linecap="round" stroke-linejoin="round"/>
<path d="M182.1 423.4L200.4 406.6L226.8 382.9L243.5 369.1L259 357.1L278.1 343.4L286.2 338.1L294.3 333L303.7 327.5L311.8 322.9L319.2 319.2L327.7 315.2L336.2 311.6L354.5 304.4L373.2 295.6L380.2 293L385.4 291.8L390.3 291.5L395.6 292L405 293.6L408.6 294.1L412.7 294.2L416.8 293.7L420.8 292.5L424.9 290.7L437.5 283.6L442 281.3L446 279.7L449.7 278.8L452.1 278.4L455 278.3L457.8 278.6L460.7 279.1L465.6 280.5L478.2 285.3L481.8 286.3L485.1 286.8L488.8 286.8L492.4 286L495.7 284.8L499.3 282.6L501.8 280.9L504.2 278.8L509.5 273.1L515.2 265.7L520.1 258.1L523.7 251.1L527.4 242.8L531 233.4L540.8 207.2L544.1 199.2L546.9 193L550.2 187.1L553.4 182.4L555 180.7L556.7 179.3L558.3 178.3L559.5 177.9L561.1 177.6L562.8 177.8L564.4 178.4L566.4 179.7L568.1 181.2L570.1 183.7L573.8 189.5L577 196.2L580.7 205.1L584.3 215.1L593.7 241.9L596.5 249.4L599.4 256.2L602.6 262.8L606.3 269.2L609.9 274.6L614 279.7L616.9 282.6L620.1 285.4L623.4 287.5L627 289.2L630.3 290.3L633.5 291L648.2 292.7L655.1 294.2L658.8 295.4L662.4 297L666.1 299L670.1 301.5" fill="none" stroke="#EDA15F" stroke-width="6.4" stroke-linecap="round" stroke-linejoin="round"/>
</g>
<path d="M207 314.6v-4.6M306.6 314.6v-4.6M406.2 314.6v-4.6M505.8 314.6v-4.6M605.4 314.6v-4.6M197.5 180.3h4.6M197.5 233.7h4.6M197.5 287.1h4.6" stroke="#555" stroke-width="1.1" fill="none"/>
<rect x="197.5" y="126.7" width="458.1" height="187.9" fill="none" stroke="#555" stroke-width="1.1"/>
<path d="M221.2 154.6H361V145.2L389 159.4L361 173.8V164.2H221.2Z" fill="#85B9D9"/>
<text x="421.6" y="171.2" font-size="44" fill="#85B9D9"><tspan font-style="italic">T</tspan> increase</text>
<g stroke="#84929E" stroke-width="6.4" stroke-dasharray="18.6 6.7" fill="none"><path d="M672.3 203.2H882.1" stroke-dashoffset="10.2"/><path d="M675.6 200.2V362" stroke-dashoffset="1.8"/><path d="M675.5 358.9H876" stroke-dashoffset="0"/><path d="M879 199.8V361.9" stroke-dashoffset="11.2"/><path d="M879 355.8V361.9" stroke-dasharray="none"/></g>
<path d="M676.5 257.3L630 231" stroke="#84929E" stroke-width="7" fill="none"/>
<path d="M617.6 224L646.5 225.5L634 248Z" fill="#84929E"/>
<text x="736.2" y="181.2" font-size="50.5" fill="#85B9D9">FBG</text>
<text x="882.5" y="546.5" font-size="49.7" fill="#F2A05F">FPI</text>
<rect x="171.8" y="112.5" width="1113" height="457.6" fill="none" stroke="#000" stroke-width="3.2"/>
<path d="M283 568.7v-7.8M505.6 568.7v-7.8M728.2 568.7v-7.8M950.9 568.7v-7.8M1173.5 568.7v-7.8" stroke="#000" stroke-width="3.2" fill="none"/>
<path d="M173.2 221.3h7.8M173.2 332.9h7.8M173.2 444.5h7.8M173.2 556h7.8" stroke="#000" stroke-width="3.2" fill="none"/>
<text x="161.1" y="230.2" font-size="32.6" text-anchor="end">-4</text>
<text x="161.1" y="341.7" font-size="32.6" text-anchor="end">-8</text>
<text x="161.1" y="453.3" font-size="32.6" text-anchor="end">-12</text>
<text x="161.1" y="564.8" font-size="32.6" text-anchor="end">-16</text>
<text x="283" y="605.6" font-size="32.6" text-anchor="middle">1530</text>
<text x="505.6" y="605.6" font-size="32.6" text-anchor="middle">1540</text>
<text x="728.2" y="605.6" font-size="32.6" text-anchor="middle">1550</text>
<text x="950.9" y="605.6" font-size="32.6" text-anchor="middle">1560</text>
<text x="1173.5" y="605.6" font-size="32.6" text-anchor="middle">1570</text>
<text x="727.6" y="661.2" font-size="35.6" text-anchor="middle">Wavelength (nm)</text>
<text x="82.7" y="330" font-size="35.3" text-anchor="middle" transform="rotate(-90 82.7 330)">Intensity (dB)</text>
<text x="74.3" y="148.7" font-size="48.5">a</text>
<path d="M944.2 141.3h58.8" stroke="#6699CE" stroke-width="6.4" stroke-linecap="round" fill="none"/>
<text x="1010.8" y="150.5" font-size="27">25</text>
<text transform="translate(1050.6 150.9) scale(1 1.27)" font-size="22.4" font-weight="normal" fill="#222">□</text>
<path d="M944.2 174.9h58.8" stroke="#7F98B7" stroke-width="6.4" stroke-linecap="round" fill="none"/>
<text x="1010.8" y="184.1" font-size="27">100</text>
<text transform="translate(1065.7 184.5) scale(1 1.27)" font-size="22.4" font-weight="normal" fill="#222">□</text>
<path d="M944.2 208.4h58.8" stroke="#98989E" stroke-width="6.4" stroke-linecap="round" fill="none"/>
<text x="1010.8" y="217.6" font-size="27">200</text>
<text transform="translate(1065.7 218) scale(1 1.27)" font-size="22.4" font-weight="normal" fill="#222">□</text>
<path d="M944.2 241.9h58.8" stroke="#AE9A8D" stroke-width="6.4" stroke-linecap="round" fill="none"/>
<text x="1010.8" y="251.1" font-size="27">300</text>
<text transform="translate(1065.7 251.5) scale(1 1.27)" font-size="22.4" font-weight="normal" fill="#222">□</text>
<path d="M1103.8 141.3h58.8" stroke="#C49C7B" stroke-width="6.4" stroke-linecap="round" fill="none"/>
<text x="1170.9" y="150.5" font-size="27">400</text>
<text transform="translate(1225.8 150.9) scale(1 1.27)" font-size="22.4" font-weight="normal" fill="#222">□</text>
<path d="M1103.8 174.9h58.8" stroke="#D99D6B" stroke-width="6.4" stroke-linecap="round" fill="none"/>
<text x="1170.9" y="184.1" font-size="27">500</text>
<text transform="translate(1225.8 184.5) scale(1 1.27)" font-size="22.4" font-weight="normal" fill="#222">□</text>
<path d="M1103.8 208.4h58.8" stroke="#EDA15F" stroke-width="6.4" stroke-linecap="round" fill="none"/>
<text x="1170.9" y="217.6" font-size="27">600</text>
<text transform="translate(1225.8 218) scale(1 1.27)" font-size="22.4" font-weight="normal" fill="#222">□</text>
<path d="M1479.7 509L1944.3 183.1" stroke="#85B9D9" stroke-width="5.4" fill="none"/>
<rect x="1530.4" y="460.2" width="14.6" height="14.6" fill="none" stroke="#85B9D9" stroke-width="4.4" stroke-linejoin="round"/>
<rect x="1611.7" y="405.2" width="14.6" height="14.6" fill="none" stroke="#85B9D9" stroke-width="4.4" stroke-linejoin="round"/>
<rect x="1693.1" y="350.2" width="14.6" height="14.6" fill="none" stroke="#85B9D9" stroke-width="4.4" stroke-linejoin="round"/>
<rect x="1774.4" y="293.5" width="14.6" height="14.6" fill="none" stroke="#85B9D9" stroke-width="4.4" stroke-linejoin="round"/>
<rect x="1855.7" y="235.7" width="14.6" height="14.6" fill="none" stroke="#85B9D9" stroke-width="4.4" stroke-linejoin="round"/>
<rect x="1937" y="174.7" width="14.6" height="14.6" fill="none" stroke="#85B9D9" stroke-width="4.4" stroke-linejoin="round"/>
<path d="M1476.7 504.6L1944.3 488.2" stroke="#F2A05F" stroke-width="5.4" fill="none"/>
<rect x="1469.4" y="497.3" width="14.6" height="14.6" fill="none" stroke="#F2A05F" stroke-width="4.4" stroke-linejoin="round"/>
<rect x="1530.4" y="494.6" width="14.6" height="14.6" fill="none" stroke="#F2A05F" stroke-width="4.4" stroke-linejoin="round"/>
<rect x="1611.7" y="491.9" width="14.6" height="14.6" fill="none" stroke="#F2A05F" stroke-width="4.4" stroke-linejoin="round"/>
<rect x="1693.1" y="489.1" width="14.6" height="14.6" fill="none" stroke="#F2A05F" stroke-width="4.4" stroke-linejoin="round"/>
<rect x="1774.4" y="486.4" width="14.6" height="14.6" fill="none" stroke="#F2A05F" stroke-width="4.4" stroke-linejoin="round"/>
<rect x="1855.7" y="483.7" width="14.6" height="14.6" fill="none" stroke="#F2A05F" stroke-width="4.4" stroke-linejoin="round"/>
<rect x="1937" y="480.4" width="14.6" height="14.6" fill="none" stroke="#F2A05F" stroke-width="4.4" stroke-linejoin="round"/>
<text x="1541.5" y="551.8" font-size="34" fill="#F2A05F">0.5 pm °C<tspan font-size="21.1" dy="-12.2">-1</tspan><tspan dy="12.2"> (R</tspan><tspan font-size="21.1" dy="-12.2">2</tspan><tspan dy="12.2"> = 99.8%)</tspan></text>
<text x="1528" y="432" font-size="33.8" fill="#85B9D9" transform="rotate(-34.6 1528 432)">10.3 pm <tspan font-family='"Liberation Sans", "Noto Sans CJK SC", sans-serif' font-weight="normal">℃</tspan><tspan font-size="21" dy="-12.2">-1</tspan><tspan dy="12.2"> (R</tspan><tspan font-size="21" dy="-12.2">2</tspan><tspan dy="12.2"> = 99.9%)</tspan></text>
<text x="1868" y="319.5" font-size="42.5" fill="#85B9D9">FBG</text>
<text x="1877" y="453" font-size="42.5" fill="#F2A05F">FPI</text>
<rect x="1415.6" y="123.4" width="569.1" height="457.8" fill="none" stroke="#000" stroke-width="3.2"/>
<path d="M1456.4 579.8v-7.8M1537.7 579.8v-7.8M1619 579.8v-7.8M1700.4 579.8v-7.8M1781.7 579.8v-7.8M1863 579.8v-7.8M1944.3 579.8v-7.8" stroke="#000" stroke-width="3.2" fill="none"/>
<path d="M1417 504.6h7.8M1417 395.6h7.8M1417 286.6h7.8M1417 177.6h7.8" stroke="#000" stroke-width="3.2" fill="none"/>
<text x="1405.5" y="514.2" font-size="29.6" text-anchor="end">0</text>
<text x="1405.5" y="405.2" font-size="29.6" text-anchor="end">2</text>
<text x="1405.5" y="296.2" font-size="29.6" text-anchor="end">4</text>
<text x="1405.5" y="187.2" font-size="29.6" text-anchor="end">6</text>
<text x="1456.4" y="614.4" font-size="29" text-anchor="middle">0</text>
<text x="1537.7" y="614.4" font-size="29" text-anchor="middle">100</text>
<text x="1619" y="614.4" font-size="29" text-anchor="middle">200</text>
<text x="1700.4" y="614.4" font-size="29" text-anchor="middle">300</text>
<text x="1781.7" y="614.4" font-size="29" text-anchor="middle">400</text>
<text x="1863" y="614.4" font-size="29" text-anchor="middle">500</text>
<text x="1944.3" y="614.4" font-size="29" text-anchor="middle">600</text>
<text x="1700.5" y="667.6" font-size="35.8" text-anchor="middle">Temperature (°C)</text>
<text x="1375.7" y="354" font-size="35.5" text-anchor="middle" transform="rotate(-90 1375.7 354)"><tspan font-family='"Liberation Serif", serif' font-weight="normal" font-size="40.5">Δλ</tspan> (nm)</text>
<text x="1332" y="148.8" font-size="50">b</text>
<rect x="1460.5" y="143.5" width="15.4" height="15.4" fill="none" stroke="#85B9D9" stroke-width="4.4" stroke-linejoin="round"/>
<rect x="1460.5" y="176.3" width="15.4" height="15.4" fill="none" stroke="#F2A05F" stroke-width="4.4" stroke-linejoin="round"/>
<path d="M1439.3 216.3h57.8" stroke="#85B9D9" stroke-width="5.4" fill="none"/>
<path d="M1439.3 249h57.8" stroke="#F2A05F" stroke-width="5.4" fill="none"/>
<text x="1504.6" y="159.6" font-size="26">FBG</text>
<text x="1504.6" y="192.4" font-size="26">FPI</text>
<text x="1504.6" y="225" font-size="26">Linear fitting</text>
<text x="1504.6" y="257.7" font-size="26">Linear fitting</text>
<clipPath id="cc"><rect x="165.2" y="785.5" width="1119.5" height="458"/></clipPath>
<g clip-path="url(#cc)">
<path d="M165.1 1069.6L173.5 1084.9L181.9 1101.3L202.7 1147L212.3 1168.8L215.5 1175.3L218.7 1180.9L221.1 1184.1L226.7 1190.3L230.7 1194L233.9 1196.2L237.1 1197.6L241.1 1198.4L243.9 1198.4L247.5 1197.7L249.5 1196.9L251.5 1195.8L253.5 1194.4L255.9 1192.4L259.1 1189.2L263.5 1184.3L266.7 1179.9L269.5 1174.9L272.7 1168.3L282.3 1146.5L302.7 1101.7L311.1 1085.2L319.1 1070.6L323.9 1062.5L328.3 1055.6L333.5 1047.8L339.1 1040L345.1 1032.1L353.9 1021.2L359.1 1015.1L363.9 1010L367.9 1006.2L374.3 1001L379.5 997.2L384.7 993.8L389.1 991.5L396.3 988.3L401.9 986.2L407.5 984.5L414.3 982.9L420.2 981.9L427.4 981.3L433.4 981.2L439.8 981.4L446.2 982L453 983.2L459.8 984.8L467.8 987.5L477 991.5L482.6 994.5L489 998.8L496.6 1004.9L502.2 1010L508.6 1016.9L516.6 1026.6L526.6 1039.4L535.8 1052.5L543.8 1065.1L552.2 1079.9L559 1092.8L564.2 1103.3L584.2 1147.3L593.8 1169.1L597.4 1176.3L600.6 1181.6L602.6 1184.3L608.6 1190.8L612.2 1194.1L615.4 1196.3L617.4 1197.3L619 1197.8L622.6 1198.6L627 1199.2L632.6 1201.3L633.8 1201.4L634.6 1201.2L636.2 1200.2L637.8 1198.2L639.4 1195.3L641 1191.4L643.8 1182.3L647.8 1165.7L649 1161.8L649.8 1160L650.6 1158.8L651 1158.4L651.8 1158.2L652.6 1158.3L655 1159.4L656.2 1159.3L657.4 1158.4L659 1156.2L661 1152.3L670.6 1131.5L680.2 1109.9L681 1107.9L681.4 1106.3L681.8 1103.4L682.2 1098L682.6 1089.8L684.6 1037.6L685.4 1021.4L686.2 1010.7L687.4 998.6L695 941.7L698.1 915.3L700.5 900.4L701.7 894.3L702.9 889.9L704.5 885.9L705.7 883.5L706.9 882L707.7 881.7L708.1 881.8L708.9 882.5L710.1 884.4L711.7 888.1L712.9 891.4L714.9 900.7L717.7 917.9L719.7 933.8L721.7 952.5L724.9 988.7L727.3 1020.5L727.7 1024.6L728.1 1027.2L728.5 1028.3L728.9 1028.6L729.3 1028.3L731.3 1025.9L733.3 1023L734.9 1019.9L736.9 1014L740.9 997.5L742.1 994.7L742.9 994.1L743.7 994.5L744.5 995.7L747.7 1003.3L749.3 1005.8L750.1 1006.6L751.3 1007.3L752.5 1007.7L754.1 1007.9L756.1 1007.4L757.7 1006.2L759.3 1004.3L763.3 998.3L765.3 995.7L767.7 993.4L770.5 991.5L778.1 988.1L786.1 985.2L794.1 983.2L802.5 981.8L811.7 981.2L818.5 981.3L826.9 981.9L835.3 983.4L842.5 985.2L849.7 987.7L858.5 991.5L864.5 994.9L870.5 998.9L877.3 1004.3L882.1 1008.5L886.9 1013.5L893.7 1021.3L903.7 1033.8L910.5 1042.9L916.9 1052.1L922.9 1061.4L928.9 1071.5L935.7 1083.9L942.9 1097.8L948.1 1108.7L959.3 1133.7L965.3 1146.7L974.5 1167.7L977.2 1173.5L979.6 1178L983.2 1183.5L987.2 1188L990.4 1191.3L993.2 1193.8L995.6 1195.6L998 1197L1000 1197.7L1003.6 1198.4L1006.4 1198.4L1010.4 1197.6L1013.2 1196.4L1016.4 1194.2L1019.6 1191.4L1024 1186.7L1027.6 1182.5L1030.8 1177.4L1034.8 1169.5L1044.8 1146.8L1050.8 1133.8L1061.6 1109.7L1066.8 1098.7L1078.4 1076.6L1083.6 1067.4L1088.8 1058.9L1096.4 1047.4L1104 1037L1114.8 1023.4L1122.4 1014.4L1128 1008.6L1133.6 1003.7L1140.8 998.1L1147.6 993.7L1151.2 991.7L1156.4 989.3L1161.2 987.4L1166 985.7L1174 983.5L1179.6 982.5L1184 981.8L1195.2 981.2L1205.6 981.6L1213.6 982.8L1223.2 985L1232 988L1241.2 992.2L1248 996.2L1255.2 1001.5L1261.9 1007.2L1267.5 1012.7L1274.3 1020.5L1284.7 1033.4" fill="none" stroke="#6699CE" stroke-width="5.6" stroke-linecap="round" stroke-linejoin="round"/>
<path d="M165.1 1041.6L172.7 1052.3L179.9 1063.4L187.1 1075.8L195.1 1090.8L199.5 1099.5L203.9 1108.8L221.5 1147.7L230.7 1168.6L233.9 1175.2L236.7 1180.1L239.1 1183.5L243.9 1188.9L247.9 1192.8L251.1 1195.4L253.9 1197L256.3 1197.8L260.3 1198.5L263.5 1198.2L265.9 1197.7L267.9 1197L270.3 1195.6L272.7 1193.8L275.5 1191.3L279.1 1187.6L282.7 1183.5L284.7 1180.6L287.9 1175.1L291.1 1168.5L300.7 1146.7L321.1 1101.9L329.5 1085.4L337.9 1070.1L342.7 1062.1L347.1 1055.2L352.3 1047.6L357.9 1040L364.3 1031.8L373.5 1020.6L378.7 1014.7L383.5 1009.7L387.9 1005.8L394.3 1000.7L399.5 997L404.7 993.8L410.7 990.8L417.4 987.8L423.4 985.7L429 984.1L435.4 982.8L440.6 981.9L448.6 981.3L453.4 981.2L461.4 981.8L467 982.6L475.4 984.5L481.8 986.4L491 990.1L496.2 992.6L499.8 994.6L503.8 997.1L507.8 999.9L517 1007.3L523 1013.1L530.2 1021.3L541.4 1035L550.2 1046.7L557.8 1057.9L564.2 1068.3L571.4 1081.2L579.4 1096.5L586.6 1111.7L596.2 1133.2L602.6 1147.1L611.8 1168L616.2 1176.9L619.8 1182.6L627 1191.8L633.4 1201.9L635.4 1203.9L636.6 1204.4L637.4 1204.3L638.6 1203.8L639.8 1202.7L641 1201.2L642.2 1198.9L644.2 1193.5L647.8 1181.3L649 1178.6L649.8 1177.7L650.6 1177.5L651 1177.7L651.8 1178.5L655.4 1185.7L656.6 1187.3L657.4 1187.9L658.6 1188.1L660.2 1187.3L661.8 1185.9L664.2 1183.3L667.4 1178.5L671 1171.7L679.4 1153.5L680.2 1151.6L680.6 1150L681 1146.8L681.4 1139.8L683.4 1073.8L685 1031.1L685.8 1016.9L687 1003.1L688.2 992.7L695.4 938.9L698.1 915.5L700.1 902.8L701.7 894.3L702.9 889.8L704.5 885.8L705.7 883.3L706.9 881.8L707.7 881.5L708.1 881.6L708.9 882.3L710.1 884.3L712.1 889L713.3 892.9L715.7 905.4L718.5 924.2L721.3 949L724.1 980.3L726.1 1007.1L728.1 1045.4L728.5 1050.4L728.9 1052.7L729.3 1053.4L730.1 1052.6L732.9 1048.2L734.1 1045.8L735.3 1042.8L737.3 1035.5L740.5 1020.4L741.7 1016.5L742.5 1015.3L742.9 1015L743.3 1015.1L744.1 1015.9L747.7 1024.4L748.5 1025.7L749.3 1026.7L750.5 1027.4L751.7 1027.6L753.3 1027.4L754.5 1027L756.1 1025.9L757.7 1024.1L759.3 1021.5L764.9 1011.3L767.3 1008L770.1 1005.2L776.5 1000L783.3 995.3L788.9 992.2L796.9 988.6L801.7 986.7L806.5 985.2L816.5 982.8L820.9 982.1L825.7 981.6L831.3 981.2L834.9 981.2L845.7 982.2L850.9 983.1L857.3 984.6L861.7 985.9L866.5 987.6L871.7 989.8L876.9 992.2L882.9 995.6L888.9 999.7L896.5 1005.7L902.1 1010.8L908.1 1017.2L915.7 1026.3L924.1 1036.7L931.7 1046.9L938.9 1057.5L945.3 1067.9L952.5 1080.7L960.5 1096L967.7 1111.1L977.6 1133.5L984 1147.3L993.2 1168.3L996 1174.1L998.8 1179.2L1001.2 1182.8L1004.4 1186.6L1008.8 1191.2L1012.4 1194.4L1015.2 1196.3L1017.6 1197.4L1020.8 1198.2L1023.6 1198.5L1026 1198.3L1029.2 1197.5L1031.6 1196.4L1034 1194.9L1036.8 1192.6L1040 1189.4L1044.8 1184.1L1046.8 1181.5L1050 1176.1L1053.6 1168.9L1063.6 1146.1L1069.6 1133.2L1080 1109.9L1084.8 1099.7L1095.6 1078.9L1100.4 1070.4L1105.2 1062.3L1112 1051.9L1119.2 1041.8L1126.8 1032L1137.2 1019.4L1142.8 1013.1L1147.6 1008.4L1153.6 1003.3L1159.6 998.7L1166.4 994.3L1173.2 990.8L1182 987.1L1190 984.6L1200 982.4L1208.4 981.5L1214.8 981.2L1224.4 981.8L1232.8 983.2L1242 985.6L1250 988.5L1258.7 992.5L1264.7 995.9L1271.5 1000.7L1279.5 1007.2L1284.7 1012.2" fill="none" stroke="#7D98BA" stroke-width="5.6" stroke-linecap="round" stroke-linejoin="round"/>
<path d="M165.1 1019.4L178.3 1035.2L187.9 1047.8L196.7 1060.7L204.7 1074.2L212.3 1088.3L219.5 1102.6L239.5 1146.5L249.1 1168.4L252.3 1175L255.5 1180.5L257.9 1183.9L262.3 1188.8L265.9 1192.4L269.1 1195L271.9 1196.8L274.3 1197.7L277.9 1198.4L280.7 1198.4L283.9 1197.8L285.9 1197.2L288.3 1196L290.7 1194.2L293.5 1191.8L297.1 1188.1L301.1 1183.6L303.1 1180.8L306.3 1175.3L309.5 1168.8L319.1 1146.9L339.9 1101.3L348.7 1084.1L356.7 1069.6L361.1 1062.3L365.5 1055.5L370.7 1048L375.9 1041L382.3 1033L391.9 1021.4L397.1 1015.6L401.9 1010.6L406.7 1006.4L413.1 1001.3L418.6 997.3L423.8 994.2L430.6 990.8L437.4 987.9L443.4 985.7L449.8 984L455 982.8L459.8 982L467.4 981.3L471.4 981.2L479.8 982L485 982.8L493.4 984.8L499.8 986.8L508.6 990.4L517.4 994.8L524.6 999.5L532.6 1005.7L538.2 1010.6L544.2 1016.8L551.4 1025.2L561.8 1037.9L571.4 1050.8L579.8 1063.5L588.6 1078.8L598.6 1097.9L604.2 1109.7L622.6 1150.6L627 1161.7L633.4 1180.3L635 1184.2L636.2 1186.4L637.4 1187.9L638.2 1188.6L639 1189L639.8 1189L640.6 1188.8L641.8 1188.1L643 1186.8L643.8 1185.6L647.8 1177.1L649 1175.8L649.8 1175.7L650.6 1176.5L651.8 1178.9L655.8 1191.5L657 1194.3L658.2 1196.3L659.4 1197.5L661 1198.2L663 1198.2L665.8 1197.7L667.8 1197L669.8 1195.9L676.2 1191.4L679.4 1188.7L679.8 1188.1L680.2 1186.7L680.6 1182L681 1170.8L682.6 1104.4L684.2 1053.7L685.4 1025.1L686.6 1008.2L688.2 993.3L695 942.3L698.1 915.7L700.1 902.8L701.7 894.2L702.9 889.7L704.5 885.7L705.7 883.2L706.9 881.6L707.7 881.4L708.1 881.5L708.9 882.2L710.5 885L712.5 890L713.7 894.6L715.3 903.1L717.3 915.5L720.5 941.8L722.9 966.9L725.7 1002.3L726.9 1024.3L728.9 1077.2L729.3 1082.6L729.7 1084L730.1 1083.7L730.5 1083L732.9 1078.2L734.1 1075.2L735.3 1071.5L737.3 1062.8L740.5 1045.1L741.7 1040.6L742.5 1039.1L742.9 1038.8L743.3 1038.8L744.1 1039.6L744.9 1041.2L747.7 1048.6L748.5 1050L749.3 1051L750.5 1051.6L751.7 1051.7L753.3 1051.3L754.9 1050.3L756.9 1048.3L758.5 1045.9L764.1 1034.5L766.9 1029.7L769.7 1025.7L774.1 1020.4L780.1 1013.7L785.7 1008.3L793.7 1001.8L801.3 996.5L805.7 993.9L810.5 991.5L816.1 989L821.3 986.9L826.1 985.3L831.7 983.9L836.9 982.7L841.7 982L851.3 981.2L861.7 982.1L866.5 982.9L872.5 984.2L877.3 985.5L882.1 987.1L891.3 991L896.1 993.4L899.7 995.4L907.7 1000.8L916.5 1007.8L922.1 1013.1L928.1 1019.7L938.9 1032.6L946.5 1042.2L954.5 1053.3L961.3 1063.7L968.1 1075.4L976.1 1090.3L980.8 1099.8L985.2 1109.1L996 1133.3L1002.4 1147.1L1012 1168.9L1014.8 1174.7L1017.6 1179.7L1020 1183.2L1023.6 1187.3L1027.6 1191.5L1031.2 1194.6L1034 1196.5L1036.4 1197.5L1040 1198.3L1042.4 1198.5L1045.2 1198.1L1048 1197.4L1050.4 1196.3L1052.8 1194.7L1055.6 1192.3L1059.2 1188.7L1063.6 1183.8L1065.6 1181L1068.8 1175.6L1072.4 1168.2L1082 1146.4L1102.8 1100.7L1112.4 1082.1L1121.2 1066.5L1126 1058.7L1131.6 1050.5L1137.2 1042.8L1143.6 1034.6L1153.2 1023L1159.2 1016.2L1164.8 1010.4L1170 1005.8L1177.2 1000.2L1184 995.6L1190.4 992.2L1198.8 988.4L1206.4 985.7L1214.8 983.5L1221.6 982.2L1230 981.3L1232.8 981.2L1234.8 981.3L1244 982.2L1250.4 983.4L1258.3 985.4L1265.1 987.8L1272.3 990.9L1278.7 994.1L1284.7 997.7" fill="none" stroke="#8E98A8" stroke-width="5.6" stroke-linecap="round" stroke-linejoin="round"/>
<path d="M165.1 1002.8L171.9 1008.3L176.3 1012.4L181.5 1017.8L187.9 1025.1L197.5 1036.6L204.7 1045.8L211.5 1055.2L217.5 1064.5L226.3 1079.8L236.7 1099.9L241.5 1110.1L251.9 1133.4L257.9 1146.3L267.9 1169L271.5 1176.3L274.7 1181.6L276.7 1184.2L281.9 1189.9L285.1 1193L287.9 1195.2L290.3 1196.7L292.3 1197.6L295.9 1198.3L298.3 1198.5L301.1 1198.1L303.9 1197.4L306.3 1196.3L308.7 1194.6L311.5 1192.3L315.1 1188.7L319.5 1183.7L321.5 1181L324.7 1175.5L328.3 1168.1L337.5 1147.1L358.3 1101.5L367.5 1083.5L375.5 1069.1L379.9 1061.9L383.9 1055.8L388.7 1049L394.3 1041.6L400.7 1033.6L410.7 1021.8L415.9 1016L420.6 1011.2L426.2 1006.3L432.6 1001.3L438.2 997.4L443.4 994.4L451 990.6L458.2 987.6L464.2 985.5L471.8 983.5L477.4 982.4L483.8 981.5L488.6 981.2L491.4 981.4L499 982.3L504.6 983.4L512.6 985.4L519.4 987.8L528.6 991.8L533.4 994.2L537 996.3L545 1001.7L553.8 1008.8L559.4 1014.1L566.2 1021.5L577.8 1035.3L586.2 1045.9L593.8 1056.6L600.6 1067.3L608.2 1080.8L617.4 1098.5L621.8 1107.8L625.4 1116.2L628.6 1124.9L634.2 1141.8L635.8 1145.8L637.4 1148.9L639.8 1152.1L641 1153.3L642.2 1154L643.4 1154.3L644.2 1154.1L647 1152.6L647.8 1152.4L648.6 1152.6L649.4 1153.3L650.6 1155.6L651.8 1159.2L655.4 1174.1L656.6 1178.3L658.2 1182.6L659.8 1185.5L661.4 1187.7L663.4 1190L668.2 1194.5L670.6 1196.2L673.8 1198.2L677.8 1200.4L679.4 1200.9L679.8 1200.7L680.2 1199.4L680.6 1193.5L682.6 1109L683.8 1068.6L685.4 1027.1L686.6 1009.2L688.2 993.9L695.4 939.6L698.1 915.9L700.1 902.9L701.7 894.2L702.9 889.6L704.5 885.5L705.7 883.1L706.9 881.5L707.7 881.2L708.5 881.6L709.3 882.6L710.9 885.8L712.5 889.9L714.1 896.5L716.5 910.5L718.1 921.5L720.1 938.5L721.7 954.2L724.9 992.1L726.5 1017.7L727.7 1048.1L729.3 1107.4L729.7 1118.1L730.1 1121.2L730.5 1121.1L730.9 1120.3L732.9 1115.4L734.1 1111.8L735.3 1107.2L736.9 1099.1L740.5 1075.6L741.7 1070.3L742.5 1068.5L742.9 1068.1L743.3 1068.1L744.1 1069L744.9 1070.8L747.3 1077.9L748.1 1079.7L748.9 1080.9L749.7 1081.5L750.9 1081.6L752.5 1080.8L754.1 1079.5L756.1 1077.1L757.7 1074.4L765.3 1057L767.7 1052.7L770.9 1047.8L778.9 1037.4L790.9 1023L798.1 1015L804.1 1009.2L809.3 1004.9L814.1 1001.2L818.5 998.1L822.9 995.4L828.1 992.6L834.1 989.8L839.3 987.7L844.5 985.9L851.3 984L857.3 982.6L863.7 981.7L869.7 981.2L879.3 982.1L886.5 983.5L896.5 986.2L901.3 988L906.1 990L916.1 994.9L920.5 997.6L924.9 1000.6L934.1 1007.9L940.5 1013.8L948.1 1022.1L960.5 1036.9L969.3 1048.3L976.9 1059.2L983.6 1070.3L991.2 1084L998 1097.2L1001.6 1104.6L1020.8 1146.9L1030 1167.9L1033.6 1175.2L1036.4 1180.2L1038.8 1183.6L1042.8 1188.1L1046.8 1192.2L1050 1194.8L1052.4 1196.4L1054.8 1197.5L1058.4 1198.3L1060.8 1198.5L1063.2 1198.2L1066.4 1197.5L1068.8 1196.3L1071.2 1194.7L1074.4 1192L1077.6 1188.8L1082 1183.9L1084 1181.2L1087.2 1175.7L1090.8 1168.4L1100.4 1146.6L1120.8 1101.8L1130 1083.8L1138 1069.4L1142.4 1062.1L1146.4 1056L1151.2 1049.2L1156.8 1041.8L1163.2 1033.8L1173.2 1022L1178.8 1015.8L1183.6 1010.9L1189.2 1006.1L1195.6 1001.1L1201.2 997.3L1206.8 994L1214.4 990.3L1221.6 987.3L1227.6 985.3L1236 983.2L1241.6 982.2L1250 981.2L1252 981.2L1257.1 981.7L1263.9 982.7L1270.7 984.2L1277.9 986.3L1284.7 988.8" fill="none" stroke="#A29A98" stroke-width="5.6" stroke-linecap="round" stroke-linejoin="round"/>
<path d="M165.1 992.2L172.3 996L179.1 1000.4L187.1 1006.4L194.3 1012.7L201.9 1020.6L213.5 1034.1L221.9 1044.4L228.7 1053.5L234.3 1061.8L240.3 1071.8L246.7 1083.4L254.3 1098L259.5 1109L270.3 1133.1L276.3 1146.1L285.9 1168L290.7 1177.5L292.7 1180.8L294.7 1183.6L300.7 1190.2L303.5 1192.9L305.9 1194.9L308.3 1196.4L310.3 1197.4L314.3 1198.3L317.1 1198.5L321.5 1197.7L324.3 1196.5L327.5 1194.4L331.1 1191.2L336.7 1185.2L339.5 1181.7L342.7 1176.4L346.3 1169.2L356.3 1146.5L376.7 1101.7L384.7 1086L391.9 1072.8L399.5 1060.2L407.9 1048.3L417.4 1036.2L431.8 1019.5L439.4 1011.7L447.8 1004.6L452.6 1001L457 998.1L461 995.6L465.4 993.3L470.6 990.8L475.8 988.5L480.6 986.7L485.4 985.2L491 983.7L495.8 982.6L501.8 981.7L507 981.2L513 981.8L519.4 982.8L525.4 984.3L532.2 986.3L537.8 988.3L543.8 990.9L551 994.5L555.8 997.3L560.6 1000.4L565.8 1004.3L571.8 1009.2L575.8 1012.8L584.2 1021.7L597.8 1037.6L605 1046.6L611 1054.8L616.2 1062.6L621.4 1071.3L624.6 1077.3L627 1082.5L629.4 1088.4L634.6 1102.5L636.2 1106L637.8 1108.8L639.8 1111.4L641.8 1113.1L643.8 1113.9L647 1113.8L647.8 1113.9L649 1114.9L649.8 1116.1L650.6 1117.9L651.8 1121.5L655.8 1137.6L657.4 1143.3L659 1148.2L661 1153.4L666.6 1166.5L671.8 1177.3L677 1187L679.4 1190.6L679.8 1191L680.2 1191.1L680.6 1189.4L681 1181.5L683 1098.4L684.6 1048.7L685.8 1021.5L687 1005.8L688.2 994.5L695.4 939.9L698.1 916.1L700.1 903L701.7 894.2L702.9 889.5L704.5 885.4L705.7 882.9L706.9 881.3L707.7 881L708.5 881.5L709.7 883.1L710.9 885.7L712.5 889.8L713.7 894.6L715.3 903.2L717.3 915.8L719.3 931.8L721.3 950.6L723.3 973.1L725.3 998.7L726.9 1028.6L728.5 1079.4L730.1 1155.2L730.5 1161.2L730.9 1161.5L733.3 1155.2L735.3 1147.4L736.9 1137.9L740.5 1110.6L741.7 1104.6L742.5 1102.6L742.9 1102.3L743.3 1102.3L744.1 1103.5L744.9 1105.8L747.3 1114.7L748.1 1116.8L748.9 1118.2L749.7 1118.9L750.1 1119L750.9 1118.9L752.1 1118L753.3 1116.7L755.7 1113.2L757.7 1109.1L764.5 1090.7L767.7 1083.2L771.7 1075.4L777.3 1065.7L783.7 1055.9L790.9 1046L798.9 1036.1L811.3 1021.6L816.1 1016.4L820.1 1012.3L823.3 1009.4L828.5 1005.2L833.3 1001.5L838.1 998.2L842.5 995.6L847.3 993L853.3 990.2L858.9 987.8L864.1 986L870.1 984.2L876.1 982.8L882.1 981.8L888.1 981.2L890.9 981.4L897.3 982.2L901.7 983L906.9 984.3L912.9 986L917.7 987.7L922.9 989.9L928.1 992.3L933.7 995.2L938.1 997.9L942.9 1001.1L948.1 1005L953.3 1009.3L960.1 1015.7L968.1 1024.6L980.8 1039.7L989.6 1051.1L997.2 1062.2L1004.8 1075L1012 1088.4L1019.2 1102.7L1039.2 1146.7L1048.8 1168.5L1052 1175.1L1055.2 1180.6L1057.6 1183.9L1061.6 1188.4L1065.2 1192.1L1068.4 1194.8L1070.8 1196.4L1073.2 1197.5L1076.4 1198.2L1079.2 1198.5L1081.6 1198.2L1084.8 1197.5L1087.2 1196.4L1089.6 1194.8L1092.8 1192.1L1096 1188.9L1100.4 1184L1102.8 1180.7L1106 1175.2L1109.2 1168.7L1118.8 1146.8L1139.2 1102L1148 1084.7L1155.6 1070.9L1163.2 1058.6L1167.6 1052.3L1172 1046.4L1183.2 1032.6L1192 1022.3L1197.6 1016.2L1202.4 1011.5L1206.8 1007.7L1212.8 1002.9L1218.8 998.7L1223.6 995.7L1229.2 992.8L1235.2 989.9L1241.2 987.5L1247.2 985.4L1255.2 983.3L1260.3 982.3L1268.3 981.3L1269.9 981.2L1275.1 981.7L1280.3 982.5L1284.7 983.4" fill="none" stroke="#B29B89" stroke-width="5.6" stroke-linecap="round" stroke-linejoin="round"/>
<path d="M165.1 985.4L170.3 987.1L175.9 989.3L181.5 991.9L187.5 994.9L191.5 997.2L195.9 1000L205.1 1006.8L211.9 1012.6L219.1 1019.9L233.5 1036.4L242.7 1047.7L249.9 1057.5L255.9 1066.8L263.1 1079.5L271.5 1095.5L278.7 1110.5L289.1 1133.8L295.5 1147.6L304.3 1167.7L307.1 1173.6L309.5 1178.1L313.1 1183.5L319.9 1190.9L322.3 1193.2L324.7 1195.1L327.1 1196.6L329.1 1197.5L333.1 1198.4L335.9 1198.5L339.9 1197.7L343.1 1196.4L346.3 1194.2L349.9 1190.9L355.9 1184.4L358.3 1181.3L361.5 1175.9L365.1 1168.6L374.7 1146.7L395.1 1101.9L403.1 1086.2L410.3 1073L417.4 1061.1L425.4 1049.7L434.6 1038.3L449 1021.7L457 1013.4L464.2 1007.1L473.4 1000.3L477.8 997.4L482.2 994.9L492.6 989.8L497.4 987.8L502.2 986.1L508.2 984.3L513.4 983L519 982L524.6 981.2L525.8 981.2L528.6 981.5L536.2 982.7L541.8 984L548.2 985.9L553.4 987.7L558.6 989.9L564.2 992.5L570.2 995.7L575 998.5L579.8 1001.8L585 1005.7L590.6 1010.3L597.4 1016.7L606.2 1026.3L619 1041.3L622.6 1045.9L625 1049.3L628.6 1055.7L634.6 1069.1L636.2 1072L637.4 1073.7L639.4 1075.6L641.4 1076.8L643.8 1077.3L647.4 1077.1L648.6 1077.7L649.8 1079.1L650.6 1080.7L651.8 1083.8L656.6 1100.5L659 1107.4L672.6 1139L679.8 1158.4L680.6 1160.1L681 1160.2L681.4 1157.4L681.8 1148.8L683.4 1088.5L685 1041.1L686.2 1016.7L687.4 1002.5L688.6 992L695.4 940.2L698.1 916.3L700.5 900.6L702.1 892.4L703.3 888.3L705.7 882.8L706.9 881.2L707.7 880.9L708.1 881L708.9 881.8L710.1 883.8L712.1 888.6L712.9 891.1L714.5 898.7L716.9 913.3L718.9 928.6L720.9 947.1L722.9 969.1L724.9 994.1L726.5 1021.3L727.7 1054.2L728.9 1102.5L730.1 1170.2L730.5 1186.1L730.9 1190.4L731.3 1190.5L732.1 1189.6L733.7 1186.6L734.9 1182.9L735.7 1179.4L737.3 1169.3L740.5 1143.2L741.3 1138.6L742.1 1135.8L742.5 1135.2L742.9 1135L743.3 1135.4L744.1 1137.3L747.3 1153L748.1 1156.1L748.9 1158.2L749.7 1159.4L750.1 1159.7L750.9 1159.8L752.1 1159.1L753.3 1157.7L755.7 1154L758.1 1148.8L759.7 1144.5L765.7 1126.6L770.5 1114.7L776.9 1100.8L783.7 1087.5L791.7 1072.7L798.9 1060.9L806.5 1050.1L815.7 1038.6L829.7 1022.4L838.1 1013.6L842.1 1010L848.1 1005.1L853.3 1001.3L858.1 998.1L862.9 995.3L870.1 991.6L876.1 988.9L881.7 986.8L888.5 984.6L894.5 983.1L900.9 981.9L906.9 981.2L912.5 981.8L918.5 982.9L923.7 984.2L930.1 986.1L935.3 987.9L940.5 990.1L946.1 992.8L951.7 995.7L956.5 998.6L961.3 1001.9L966.5 1005.8L971.7 1010L978.4 1016.4L986.8 1025.6L1000 1041L1008.4 1051.7L1015.6 1062.1L1023.2 1074.9L1030.8 1089L1038 1103.3L1058 1147.3L1067.2 1168.3L1070.4 1174.9L1073.6 1180.5L1076 1183.8L1080 1188.3L1083.6 1192L1086.8 1194.7L1089.2 1196.3L1091.6 1197.4L1094.8 1198.2L1097.6 1198.5L1100.4 1198.2L1103.6 1197.4L1106 1196.2L1108.4 1194.6L1111.6 1191.8L1115.2 1188.2L1119.2 1183.7L1121.6 1180.3L1124.4 1175.4L1128 1168L1137.2 1147L1156.8 1103.9L1162 1093.4L1169.6 1079L1176.8 1066.4L1183.6 1056L1191.6 1045.3L1202 1032.8L1213.2 1020.1L1220.8 1012.4L1225.2 1008.6L1230.4 1004.4L1235.2 1000.9L1240 997.8L1244.4 995.2L1251.2 991.7L1256.8 989.2L1261.9 987.1L1267.9 985.2L1273.9 983.5L1278.3 982.6L1284.7 981.5" fill="none" stroke="#C09C7F" stroke-width="5.6" stroke-linecap="round" stroke-linejoin="round"/>
<path d="M165.1 981.5L171.5 982.5L176.3 983.6L182.3 985.4L188.7 987.5L194.3 989.9L199.9 992.5L206.7 996.1L211.5 998.9L216.3 1002.2L221.1 1005.7L226.7 1010.2L230.7 1013.7L238.7 1021.9L251.9 1036.8L261.1 1047.8L268.7 1058L275.1 1068L282.3 1080.8L290.3 1096.1L294.3 1104.2L313.9 1147.4L323.1 1168.4L326.3 1174.9L329.1 1179.9L331.5 1183.4L335.5 1187.9L339.5 1192L342.7 1194.7L345.1 1196.3L347.5 1197.4L350.7 1198.2L353.5 1198.5L356.3 1198.2L359.5 1197.4L361.9 1196.2L364.3 1194.6L367.9 1191.4L371.9 1187.3L375.5 1183.1L377.9 1179.6L380.7 1174.5L383.9 1167.9L393.1 1146.9L411.9 1105.5L415.5 1098L421.4 1086.4L429 1072.4L435.4 1061.9L441.8 1052.7L449.4 1043.1L464.2 1026.1L472.6 1017L479 1011L489 1003.1L493.8 999.8L498.6 996.9L504.6 993.6L510.6 990.7L515.8 988.4L520.6 986.6L527 984.6L532.2 983.2L539.8 981.7L543.8 981.2L544.6 981.2L551 982.2L557 983.4L563.4 985.3L570.2 987.6L575.4 989.7L581 992.4L587.4 995.7L592.2 998.5L597 1001.7L601.8 1005.2L607.4 1009.6L611.8 1013.5L619.4 1021.2L625 1027.8L628.6 1033.4L634.2 1044.3L635.8 1046.6L637 1047.9L639 1049.1L641.4 1049.4L643.4 1049.1L646.6 1047.8L647.8 1047.6L649 1048.1L650.2 1049.4L651 1050.8L652.2 1053.5L656.2 1065.1L658.2 1070L671.4 1095.9L674.2 1102.6L679.8 1118.1L681 1120.7L681.4 1121.4L681.8 1121.5L682.2 1119.8L682.6 1114.1L684.6 1054.8L685.8 1025.2L686.6 1012.6L687.8 999.5L695.4 940.5L698.1 916.5L700.5 900.7L701.7 894.2L702.9 889.4L705.3 883.4L706.5 881.4L707.3 880.8L708.1 880.9L709.3 882.2L710.9 885.4L712.5 889.7L714.1 896.5L716.5 910.8L718.5 925.6L720.5 943.6L722.5 965.1L724.5 989.7L726.1 1014.9L727.3 1044.6L728.5 1088.1L730.5 1193.2L730.9 1197.4L731.3 1197.8L732.5 1197.6L733.7 1196.6L734.9 1194.1L735.7 1191.2L737.3 1181.9L740.5 1157.1L741.3 1153L742.1 1150.9L742.5 1150.7L742.9 1151L743.3 1151.8L744.1 1155L747.7 1179.7L748.5 1184L749.7 1188.5L750.9 1190.8L751.7 1191.6L752.5 1191.9L753.3 1192L754.5 1191.8L755.7 1191.1L756.5 1190.3L758.1 1188L759.7 1184.5L767.3 1163.8L774.5 1146.7L794.1 1103.5L799.3 1093.1L806.5 1079.4L810.9 1071.5L814.9 1064.8L818.5 1059.3L822.5 1053.6L826.9 1047.9L831.7 1042L846.5 1025L854.9 1016.1L862.1 1009.6L867.3 1005.4L872.1 1001.9L876.9 998.7L881.3 996.1L886.9 993.1L892.5 990.4L897.7 988.2L902.5 986.4L908.5 984.5L913.7 983.1L919.7 982L925.3 981.2L930.5 981.9L936.5 983L941.7 984.3L947.3 986.1L952.1 987.8L957.3 990L968.1 995.3L972.5 997.8L976.9 1000.7L981.6 1004.1L986.4 1007.8L994 1014.3L1002.4 1023L1017.2 1039.9L1025.6 1050.2L1033.2 1060.8L1040.4 1072.6L1047.6 1085.7L1056 1102.2L1076.4 1147.1L1086 1168.9L1089.6 1176.2L1092.8 1181.5L1095.2 1184.6L1101.2 1191.1L1104.8 1194.3L1108 1196.5L1110.8 1197.7L1115.2 1198.5L1118 1198.3L1122 1197.4L1124 1196.5L1126.4 1195L1128.8 1193L1131.2 1190.8L1137.6 1183.8L1139.6 1181L1141.6 1177.8L1146.4 1168.2L1155.6 1147.3L1162 1133.4L1172 1111L1178.8 1096.7L1187.2 1080.6L1194 1068.6L1199.6 1059.7L1206.4 1050.3L1215.2 1039.5L1230.4 1022.2L1237.6 1014.8L1244.4 1008.8L1253.6 1001.8L1257.9 998.9L1262.3 996.3L1268.3 993.1L1273.9 990.4L1279.5 988L1284.7 986.1" fill="none" stroke="#CB9C75" stroke-width="5.6" stroke-linecap="round" stroke-linejoin="round"/>
<path d="M165.1 984.6L172.3 982.7L181.1 981.2L187.1 982.1L193.5 983.5L199.5 985.3L206.3 987.7L212.3 990.2L218.7 993.3L225.5 997L231.1 1000.5L237.1 1004.6L243.5 1009.6L248.3 1013.7L253.5 1018.7L259.5 1025.1L269.5 1036.3L279.9 1048.5L283.9 1053.6L287.9 1059.1L291.5 1064.6L295.1 1070.6L302.7 1084.3L311.5 1101.5L332.3 1147.2L341.9 1169L345.5 1176.3L348.7 1181.6L350.7 1184.2L356.3 1190.3L359.5 1193.4L362.7 1195.8L365.5 1197.3L368.7 1198.1L371.9 1198.5L374.7 1198.2L377.5 1197.5L379.5 1196.7L381.9 1195.2L384.3 1193.3L388.3 1189.5L393.1 1184.2L394.7 1182.1L396.7 1179.1L399.5 1173.9L402.3 1168.1L411.5 1147.2L417.8 1133.3L427.8 1110.9L434.6 1096.6L443 1080.6L449.8 1068.5L455.4 1059.7L461.8 1051L470.2 1040.8L485.8 1023.4L493 1016L499.4 1010.3L508.6 1003.2L517.4 997.5L528.6 991.5L533.8 989.2L539 987.1L544.6 985.2L549.8 983.6L559.8 981.5L562.6 981.2L569 982.2L574.2 983.4L579.8 985L586.2 987.1L591.8 989.4L597.8 992.2L604.2 995.5L609.4 998.5L614.6 1001.9L621.8 1007.2L624.2 1009.4L626.2 1011.5L629 1015.4L634.2 1024.5L635.8 1026.6L637 1027.7L639 1028.7L641.4 1028.7L643.4 1028.2L646.6 1026.7L647.8 1026.4L649 1026.6L650.2 1027.6L651.8 1030.1L655.8 1039.3L658.2 1043.9L660.2 1046.9L667.8 1057.1L671.4 1062.7L674.2 1068.4L679.8 1082.2L681.8 1085.5L682.2 1085.9L682.6 1085.9L683 1084.8L683.4 1081.5L683.8 1075.4L686.2 1019.7L687.4 1004.3L688.6 993.2L695.4 940.9L698.5 913.7L700.9 898.4L702.5 890.7L704.5 885.1L705.7 882.5L706.5 881.3L707.3 880.6L708.1 880.7L708.9 881.5L710.1 883.5L712.1 888.4L712.9 891L714.5 898.7L716.9 913.6L718.9 929.3L720.9 948.1L724.5 990.7L726.1 1016.6L727.3 1047.5L728.5 1092.9L729.7 1158.6L730.1 1175.1L730.5 1181.3L730.9 1182.7L731.3 1183.2L732.5 1184.2L733.3 1184.5L734.1 1184.3L734.5 1184L735.7 1181.6L736.5 1178.6L737.3 1174.5L740.5 1153.7L741.3 1150.5L741.7 1149.5L742.1 1149.1L742.5 1149.3L743.3 1151.2L744.1 1155.2L747.7 1184.1L748.5 1189.5L749.7 1195.4L750.9 1199.3L752.5 1202.4L753.3 1203.4L754.5 1204.4L755.7 1204.9L756.5 1205L758.1 1204.5L760.1 1202.6L766.5 1193.4L775.3 1183.1L778.9 1177.5L783.7 1167.9L792.5 1147.8L799.3 1133L808.9 1111.5L815.3 1098L823.3 1082.6L829.7 1071L835.3 1061.9L840.5 1054.5L848.9 1043.9L863.3 1027.6L871.7 1018.6L878.5 1012.2L888.1 1004.5L896.9 998.6L907.7 992.6L917.7 988.1L924.5 985.7L930.9 983.7L937.3 982.2L943.7 981.2L951.3 982.4L958.9 984.3L966.9 986.9L973.7 989.6L980.8 993L988.8 997.4L994.8 1001.2L1001.2 1005.7L1008.8 1011.8L1013.6 1016.2L1018.4 1021.1L1024 1027.1L1035.2 1039.7L1041.6 1047.3L1046 1052.9L1050 1058.4L1053.6 1063.8L1057.2 1069.6L1064.8 1083.3L1074 1101.2L1094.8 1146.9L1104.4 1168.7L1108 1176L1111.2 1181.4L1113.2 1184L1118 1189.4L1121.2 1192.5L1124 1194.8L1126.4 1196.4L1128.8 1197.5L1132 1198.3L1134.4 1198.5L1137.2 1198.2L1140.4 1197.5L1142.8 1196.3L1145.6 1194.4L1149.2 1191.3L1153.6 1186.6L1156.8 1182.9L1159.2 1179.3L1162 1174.2L1164.8 1168.5L1174 1147.5L1180.4 1133.6L1190 1112.1L1196.8 1097.7L1204.8 1082.3L1210.8 1071.5L1216.4 1062.3L1221.6 1054.9L1227.6 1047.1L1234.8 1038.7L1248.4 1023.5L1256.4 1015.3L1262.7 1009.7L1270.7 1003.6L1277.5 999L1284.7 994.9" fill="none" stroke="#D89D6C" stroke-width="5.6" stroke-linecap="round" stroke-linejoin="round"/>
<path d="M165.1 992.5L171.5 989.4L177.5 987L184.7 984.5L190.7 982.9L199.5 981.2L207.1 982.5L214.7 984.6L223.5 987.7L230.7 990.8L238.7 994.8L246.3 999.2L253.1 1003.7L260.7 1009.4L267.5 1015.2L272.3 1019.8L277.5 1025.3L296.7 1046.7L301.1 1052.1L305.1 1057.4L308.7 1062.6L312.3 1068.4L319.9 1081.9L329.9 1101.3L350.7 1147L360.3 1168.8L363.9 1176.1L367.1 1181.4L369.1 1184.1L373.9 1189.4L377.1 1192.6L379.9 1194.9L382.3 1196.4L384.7 1197.5L387.9 1198.3L390.3 1198.5L393.1 1198.2L396.3 1197.4L398.7 1196.3L401.5 1194.4L405.1 1191.2L409.5 1186.6L412.7 1182.8L415.1 1179.2L417.8 1174.1L420.6 1168.4L429.8 1147.4L436.2 1133.5L445.8 1112L452.6 1097.6L460.6 1082.2L467 1070.7L472.6 1061.7L478.2 1053.9L486.2 1044.1L500.2 1028.5L508.2 1020L514.6 1013.9L523 1007.1L531 1001.3L539 996.5L548.6 991.4L557.4 987.6L567.8 984L573.4 982.6L579.4 981.4L581 981.2L583 981.5L592.6 983.6L601.8 986.5L611 990.3L620.6 995.1L624.2 997.4L627 999.8L629.4 1002.8L634.2 1009.9L635.8 1011.5L637 1012.3L638.6 1012.6L640.2 1012.4L642.6 1011.4L647 1008.6L648.2 1008.2L649.4 1008.5L650.6 1009.6L651.8 1011.4L656.2 1020.4L658.6 1024.4L661.4 1027.9L669.4 1037L672.2 1040.7L674.2 1044.1L678.2 1052.5L679.8 1055.3L680.6 1056.4L681.8 1057.5L682.6 1057.9L683 1057.9L683.4 1057.6L683.8 1056.6L684.2 1054.4L684.6 1050.2L686.2 1020.6L687.8 1000.9L695.8 938L698.5 913.8L700.9 898.4L702.5 890.6L703.3 888L705.3 883.1L706.5 881.1L707.3 880.5L708.1 880.6L708.9 881.3L710.5 884.3L712.5 889.5L714.1 896.6L716.5 911.1L718.1 922.8L720.1 940.7L722.1 961.8L724.5 991.7L726.1 1018.3L727.7 1064.1L729.3 1132.4L729.7 1140L730.1 1142.5L732.1 1146.9L733.7 1149.5L734.5 1150.2L734.9 1150.3L735.7 1149.9L736.5 1148.6L737.3 1146.2L740.1 1133.8L740.9 1131.2L741.3 1130.4L741.7 1130.1L742.1 1130.2L742.5 1130.8L743.3 1133.4L744.1 1137.9L748.1 1171.4L748.9 1176.7L750.1 1182.8L752.1 1189.4L754.5 1194.7L755.7 1196.6L756.9 1198.1L758.1 1199L759.3 1199.5L760.9 1199.5L764.9 1198.8L767.3 1198.5L771.3 1198.6L773.3 1198.4L776.5 1197.8L778.9 1196.9L782.1 1194.9L785.7 1191.9L790.5 1186.9L794.5 1182.1L797.7 1176.9L801.3 1169.8L811.3 1147.1L817.3 1134.1L829.3 1107.3L833.7 1098.2L840.1 1085.8L847.3 1072.6L853.3 1062.7L859.3 1054.2L866.5 1045.4L881.3 1028.8L889.3 1020.3L895.7 1014.1L902.9 1008.2L912.1 1001.5L920.9 996.2L931.3 990.8L936.5 988.5L941.3 986.6L946.9 984.7L951.7 983.3L957.7 982L962.5 981.2L972.5 983.2L981.2 985.8L988 988.4L994.8 991.4L1002.4 995.4L1009.6 999.6L1016 1003.8L1022.8 1009L1028.8 1014L1034.4 1019.3L1040.8 1026L1052 1038.3L1061.6 1049.4L1069.2 1059.5L1076 1070.2L1083.6 1083.9L1092.8 1101.8L1113.2 1146.6L1122.8 1168.5L1126.4 1175.8L1129.6 1181.2L1131.6 1183.9L1136 1188.8L1139.2 1192.1L1142.4 1194.8L1144.8 1196.4L1147.2 1197.5L1150 1198.2L1152.4 1198.5L1154.8 1198.4L1158.4 1197.6L1160.8 1196.6L1163.2 1195.1L1166 1192.9L1169.2 1189.8L1174 1184.5L1176 1181.9L1179.2 1176.7L1183.2 1168.7L1192.8 1146.8L1198.8 1133.9L1209.6 1109.7L1214 1100.3L1224.8 1079.5L1232.8 1065.7L1236.8 1059.6L1241.6 1053L1246.8 1046.6L1253.2 1039.3L1265.1 1026.1L1271.9 1019L1277.5 1013.7L1284.7 1007.8" fill="none" stroke="#E39E65" stroke-width="5.6" stroke-linecap="round" stroke-linejoin="round"/>
<path d="M165.1 1004.2L171.5 1000L177.9 996.2L185.1 992.3L191.9 989.1L199.1 986.3L205.5 984.1L212.3 982.3L218.3 981.2L225.9 982.8L232.7 984.7L241.1 987.8L248.3 990.9L256.3 995L264.7 999.9L271.9 1004.7L279.1 1010.2L283.9 1014.1L288.3 1018.1L298.7 1028.9L315.9 1047.8L321.1 1054.2L325.9 1060.7L330.3 1067.6L335.1 1075.8L340.7 1086.2L347.9 1100.2L352.3 1109.6L363.1 1133.8L369.1 1146.7L378.3 1167.7L381.5 1174.3L384.3 1179.4L386.7 1183L389.9 1186.7L394.3 1191.3L397.9 1194.5L400.3 1196.1L402.7 1197.3L405.9 1198.2L408.7 1198.5L411.5 1198.2L414.7 1197.5L417.1 1196.4L419.8 1194.5L423.4 1191.3L427.8 1186.7L431 1183L433.4 1179.4L436.2 1174.3L439.4 1167.7L448.6 1146.7L454.6 1133.8L465.4 1109.6L470.6 1098.6L478.2 1083.9L484.2 1073L489.4 1064.4L494.6 1056.8L499.8 1050.2L506.2 1042.8L521.8 1025.9L529.8 1017.8L535.4 1012.8L543 1006.8L549.8 1001.9L556.6 997.7L567.8 991.7L573 989.3L578.2 987.1L583.8 985.1L588.6 983.6L594.2 982.2L599.4 981.2L605.4 982.3L612.2 984.1L619 986.4L623.8 988.5L625.8 989.8L627.4 991.1L629.4 993.3L634.2 999.6L635.8 1000.9L637 1001.4L638.6 1001.4L640.2 1000.9L642.6 999.4L647 995.8L648.2 995.3L649.4 995.3L650.6 996L651.8 997.5L655.8 1004.3L658.2 1007.7L660.6 1010.1L668.2 1016.8L671.8 1020.9L674.2 1024.8L678.2 1033.2L680.2 1036.5L681 1037.3L682.2 1037.9L683 1038.1L683.8 1037.8L684.2 1037.2L684.6 1036.1L685 1033.8L687 1009.2L688.2 997.3L695.4 941.6L698.9 911.2L700.9 898.5L702.5 890.6L703.3 887.9L705.3 883L706.5 881L707.3 880.3L707.7 880.3L708.5 880.7L709.3 881.7L710.1 883.3L712.5 889.4L713.7 894.5L715.3 903.6L717.3 916.8L720.5 945.1L722.9 972.2L725.3 1004.9L726.5 1029.7L728.5 1091.1L728.9 1097.6L729.3 1100.1L730.5 1102.9L733.3 1108.2L734.5 1109.6L735.3 1109.9L735.7 1109.9L736.5 1109.1L737.3 1107.6L740.1 1098.8L740.9 1097L741.3 1096.5L741.7 1096.4L742.1 1096.7L742.5 1097.4L743.3 1100L744.5 1106.8L747.7 1131.6L749.7 1143.9L751.3 1151.1L752.9 1157L754.9 1163.4L756.9 1168.6L758.9 1172.6L760.9 1175.4L768.1 1183.6L774.1 1189.9L777.3 1192.9L780.1 1195.2L782.9 1196.9L785.3 1197.8L788.9 1198.4L791.7 1198.4L795.7 1197.6L798.5 1196.3L801.7 1194.1L805.3 1190.8L811.3 1184.3L813.7 1181.1L816.9 1175.6L820.1 1169.2L829.7 1147.3L836.1 1133.5L847.3 1108.4L851.7 1099.2L856.5 1089.8L864.1 1075.6L870.1 1065.4L875.7 1057.2L882.5 1048.6L890.5 1039.6L907.7 1021.2L914.5 1014.7L922.5 1008.2L927.7 1004.3L932.5 1001.1L942.9 994.9L948.5 992L953.7 989.6L964.5 985.3L972.1 983L980.8 981.2L986.8 982.3L992.8 983.9L998.8 985.9L1005.2 988.3L1012 991.4L1018.8 994.9L1026 999.1L1032 1002.9L1038.8 1007.9L1045.6 1013.3L1050.4 1017.6L1056 1023.2L1073.6 1042.2L1081.2 1051L1088.4 1060.5L1095.2 1071.4L1102.8 1085.2L1111.6 1102.4L1132 1147.3L1141.2 1168.3L1144.8 1175.6L1148 1181.1L1150 1183.8L1154 1188.3L1157.6 1192L1160.4 1194.4L1162.8 1196.1L1165.2 1197.3L1166.8 1197.8L1170 1198.4L1172.8 1198.4L1176.4 1197.8L1178.8 1196.9L1181.6 1195.2L1184.8 1192.6L1188 1189.5L1192.8 1184.2L1195.2 1180.9L1198.4 1175.4L1202 1168L1211.2 1147.1L1231.6 1102.2L1240 1085.7L1247.2 1072.6L1254 1061.6L1260.7 1052.3L1268.3 1043.4L1284.7 1025.6" fill="none" stroke="#EC9F60" stroke-width="5.6" stroke-linecap="round" stroke-linejoin="round"/>
<path d="M165.1 1020.3L172.3 1013.8L181.9 1006.3L190.7 1000.3L200.3 994.7L209.9 989.9L219.5 985.9L227.5 983.3L236.7 981.2L242.7 982.5L248.7 984.1L254.7 986.2L261.5 989L267.9 992L274.3 995.4L281.1 999.4L287.1 1003.2L293.5 1007.8L299.9 1012.8L304.7 1017L309.9 1022L316.7 1029L333.1 1046.6L338.7 1053.2L343.5 1059.5L347.9 1066.1L353.1 1074.9L358.7 1085.3L365.9 1099.2L370.7 1109.3L381.5 1133.5L387.5 1146.5L397.1 1168.4L399.9 1174.1L402.7 1179.2L405.1 1182.8L408.3 1186.6L412.7 1191.2L416.3 1194.4L419 1196.3L421.4 1197.4L424.6 1198.2L427 1198.5L429.4 1198.3L433 1197.5L435.4 1196.4L438.2 1194.6L441.8 1191.4L445.8 1187.3L449.4 1183.1L451.8 1179.6L454.6 1174.5L457.8 1167.9L467 1147L473 1134L483.8 1109.8L488.6 1099.6L496.2 1084.9L501.8 1074.6L507 1065.8L511.4 1059.3L516.2 1053L521.8 1046.4L544.2 1022.6L549.4 1017.5L553.8 1013.7L560.2 1008.6L566.2 1004.2L572.6 1000L579.4 996L586.2 992.3L592.6 989.3L599.4 986.5L605.8 984.2L612.6 982.3L618.2 981.2L623.4 982.5L626.6 984.1L629 986.1L634.2 991.9L635.4 992.8L636.6 993.3L638.2 993.3L640.2 992.3L642.2 990.9L646.2 987.1L647.8 985.9L649 985.6L650.2 985.9L651.8 987.4L655.8 993.4L658.2 996.2L660.6 998.1L668.6 1003.4L671.8 1006.3L674.2 1009.7L678.2 1017.5L679.4 1019.4L680.2 1020.3L681 1020.9L682.2 1021.2L683.8 1020.7L684.6 1019.9L685.4 1017.8L685.8 1015.6L688.2 996L691 976L695.4 941.9L698.5 914.2L700.5 900.9L701.7 894.2L702.9 889L705.3 882.9L706.5 880.8L707.3 880.2L707.7 880.1L708.5 880.6L709.7 882.3L712.1 888.1L712.9 890.9L714.1 896.6L716.1 908.8L718.5 926.8L721.3 954.1L724.5 993.6L725.7 1013.2L727.7 1057.3L728.1 1062.1L728.5 1064.4L729.3 1066.3L732.9 1071.9L734.1 1073.2L735.3 1073.8L736.1 1073.5L736.5 1073.1L737.3 1071.9L740.1 1064.6L740.9 1063.2L741.3 1062.9L741.7 1062.8L742.5 1063.7L743.3 1066L744.1 1069.6L748.1 1095.4L750.1 1105.6L751.7 1111.8L753.7 1118.5L755.7 1124.3L757.3 1128.1L759.3 1131.9L764.5 1139.2L767.7 1144.7L770.5 1150.5L779.7 1171.2L782.5 1176.7L785.3 1181.3L787.3 1184L790.1 1187.2L795.7 1192.8L799.7 1195.9L801.7 1197L803.7 1197.7L807.3 1198.4L810.1 1198.4L814.1 1197.6L817.3 1196.1L820.5 1193.8L824.5 1190.1L830.1 1183.9L832.5 1180.6L835.3 1175.8L838.5 1169.4L848.1 1147.6L854.5 1133.7L865.3 1109.5L869.7 1100.2L874.5 1090.8L882.1 1076.5L888.5 1065.6L894.1 1057.5L900.5 1049.5L907.7 1041.5L926.9 1021.2L933.7 1014.9L942.5 1007.9L947.7 1004.1L952.9 1000.7L958.9 997L964.9 993.7L970.5 990.9L975.7 988.5L981.6 986.1L987.2 984.2L993.2 982.5L999.2 981.2L1002.8 981.9L1010.8 984L1019.2 987L1028 990.8L1036.8 995.3L1044.4 999.8L1050.8 1004L1057.6 1008.9L1064.8 1014.7L1069.2 1018.7L1074.4 1023.8L1091.6 1042.1L1100 1051.6L1106.4 1059.9L1112.4 1069.2L1119.2 1081.2L1127.2 1096.5L1131.2 1104.7L1150.4 1147.1L1159.6 1168L1162.8 1174.6L1165.6 1179.6L1167.6 1182.6L1169.2 1184.6L1173.6 1189.5L1177.2 1193L1179.6 1194.9L1182 1196.5L1184 1197.4L1186.4 1198L1189.6 1198.5L1192.4 1198.3L1196 1197.4L1199.2 1195.8L1202.4 1193.4L1206.4 1189.6L1211.6 1183.8L1214 1180.4L1217.2 1174.8L1220.4 1168.2L1229.6 1147.3L1248.8 1104.9L1252.4 1097.5L1258.7 1085.2L1265.9 1072.1L1271.9 1062.4L1277.9 1054.2L1284.7 1046.1" fill="none" stroke="#F4A05B" stroke-width="5.6" stroke-linecap="round" stroke-linejoin="round"/>
</g>
<path d="M264.2 926H389.5V916.6L418.5 931L389.5 945.6V936H264.2Z" fill="#85B9D9"/>
<text x="449.5" y="946.8" font-size="44" fill="#85B9D9"><tspan font-style="italic">P</tspan> increase</text>
<text x="656.5" y="857.3" font-size="49" fill="#85B9D9">FBG</text>
<text x="895" y="1224" font-size="49" fill="#F2A05F">FPI</text>
<rect x="165.2" y="785.5" width="1119.5" height="458" fill="none" stroke="#000" stroke-width="3.2"/>
<path d="M277.1 1242v-8.2M501 1242v-8.2M724.9 1242v-8.2M948.9 1242v-8.2M1172.8 1242v-8.2" stroke="#000" stroke-width="3.2" fill="none"/>
<path d="M166.7 854.1h8.2M166.7 978.7h8.2M166.7 1103.2h8.2M166.7 1227.8h8.2" stroke="#000" stroke-width="3.2" fill="none"/>
<text x="154.7" y="863.8" font-size="32.6" text-anchor="end">-4</text>
<text x="154.7" y="988.4" font-size="32.6" text-anchor="end">-8</text>
<text x="154.7" y="1112.9" font-size="32.6" text-anchor="end">-12</text>
<text x="154.7" y="1237.5" font-size="32.6" text-anchor="end">-16</text>
<text x="277.1" y="1278.6" font-size="32.6" text-anchor="middle">1530</text>
<text x="501" y="1278.6" font-size="32.6" text-anchor="middle">1540</text>
<text x="724.9" y="1278.6" font-size="32.6" text-anchor="middle">1550</text>
<text x="948.9" y="1278.6" font-size="32.6" text-anchor="middle">1560</text>
<text x="1172.8" y="1278.6" font-size="32.6" text-anchor="middle">1570</text>
<text x="725" y="1335" font-size="35" text-anchor="middle">Wavelength (nm)</text>
<text x="76.2" y="1003.2" font-size="35.3" text-anchor="middle" transform="rotate(-90 76.2 1003.2)">Intensity (dB)</text>
<text x="66.2" y="788.3" font-size="49.5">c</text>
<path d="M936.2 808h56" stroke="#6699CE" stroke-width="5.8" fill="none"/>
<text x="999.2" y="816" font-size="24.85">0.0 MPa</text>
<path d="M936.2 839.5h56" stroke="#7D98BA" stroke-width="5.8" fill="none"/>
<text x="999.2" y="847.5" font-size="24.85">0.2 MPa</text>
<path d="M936.2 870.9h56" stroke="#8E98A8" stroke-width="5.8" fill="none"/>
<text x="999.2" y="878.9" font-size="24.85">0.4 MPa</text>
<path d="M936.2 902.4h56" stroke="#A29A98" stroke-width="5.8" fill="none"/>
<text x="999.2" y="910.4" font-size="24.85">0.6 MPa</text>
<path d="M936.2 933.8h56" stroke="#B29B89" stroke-width="5.8" fill="none"/>
<text x="999.2" y="941.8" font-size="24.85">0.8 MPa</text>
<path d="M936.2 965.2h56" stroke="#C09C7F" stroke-width="5.8" fill="none"/>
<text x="999.2" y="973.2" font-size="24.85">1.0 MPa</text>
<path d="M1106.2 808h56" stroke="#CB9C75" stroke-width="5.8" fill="none"/>
<text x="1169.2" y="816" font-size="24.85">1.2 MPa</text>
<path d="M1106.2 839.5h56" stroke="#D89D6C" stroke-width="5.8" fill="none"/>
<text x="1169.2" y="847.5" font-size="24.85">1.4 MPa</text>
<path d="M1106.2 870.9h56" stroke="#E39E65" stroke-width="5.8" fill="none"/>
<text x="1169.2" y="878.9" font-size="24.85">1.6 MPa</text>
<path d="M1106.2 902.4h56" stroke="#EC9F60" stroke-width="5.8" fill="none"/>
<text x="1169.2" y="910.4" font-size="24.85">1.8 MPa</text>
<path d="M1106.2 933.8h56" stroke="#F4A05B" stroke-width="5.8" fill="none"/>
<text x="1169.2" y="941.8" font-size="24.85">2.0 MPa</text>
<path d="M1467.9 1171.7L1924.7 1172.1" stroke="#85B9D9" stroke-width="5.4" fill="none"/>
<rect x="1460.6" y="1164.4" width="14.6" height="14.6" fill="none" stroke="#85B9D9" stroke-width="4.4" stroke-linejoin="round"/>
<rect x="1506.3" y="1164.4" width="14.6" height="14.6" fill="none" stroke="#85B9D9" stroke-width="4.4" stroke-linejoin="round"/>
<rect x="1552" y="1164.4" width="14.6" height="14.6" fill="none" stroke="#85B9D9" stroke-width="4.4" stroke-linejoin="round"/>
<rect x="1597.6" y="1164.4" width="14.6" height="14.6" fill="none" stroke="#85B9D9" stroke-width="4.4" stroke-linejoin="round"/>
<rect x="1643.3" y="1164.4" width="14.6" height="14.6" fill="none" stroke="#85B9D9" stroke-width="4.4" stroke-linejoin="round"/>
<rect x="1689" y="1164.4" width="14.6" height="14.6" fill="none" stroke="#85B9D9" stroke-width="4.4" stroke-linejoin="round"/>
<rect x="1734.7" y="1164.4" width="14.6" height="14.6" fill="none" stroke="#85B9D9" stroke-width="4.4" stroke-linejoin="round"/>
<rect x="1780.4" y="1164.4" width="14.6" height="14.6" fill="none" stroke="#85B9D9" stroke-width="4.4" stroke-linejoin="round"/>
<rect x="1826" y="1164.4" width="14.6" height="14.6" fill="none" stroke="#85B9D9" stroke-width="4.4" stroke-linejoin="round"/>
<rect x="1871.7" y="1164.4" width="14.6" height="14.6" fill="none" stroke="#85B9D9" stroke-width="4.4" stroke-linejoin="round"/>
<rect x="1917.4" y="1164.4" width="14.6" height="14.6" fill="none" stroke="#85B9D9" stroke-width="4.4" stroke-linejoin="round"/>
<path d="M1467.9 1167.8L1924.7 846.7" stroke="#F2A05F" stroke-width="5.4" fill="none"/>
<rect x="1506.3" y="1130.4" width="14.6" height="14.6" fill="none" stroke="#F2A05F" stroke-width="4.4" stroke-linejoin="round"/>
<rect x="1552" y="1095.7" width="14.6" height="14.6" fill="none" stroke="#F2A05F" stroke-width="4.4" stroke-linejoin="round"/>
<rect x="1597.6" y="1062.9" width="14.6" height="14.6" fill="none" stroke="#F2A05F" stroke-width="4.4" stroke-linejoin="round"/>
<rect x="1643.3" y="1036.2" width="14.6" height="14.6" fill="none" stroke="#F2A05F" stroke-width="4.4" stroke-linejoin="round"/>
<rect x="1689" y="1006.1" width="14.6" height="14.6" fill="none" stroke="#F2A05F" stroke-width="4.4" stroke-linejoin="round"/>
<rect x="1734.7" y="971.4" width="14.6" height="14.6" fill="none" stroke="#F2A05F" stroke-width="4.4" stroke-linejoin="round"/>
<rect x="1780.4" y="937.4" width="14.6" height="14.6" fill="none" stroke="#F2A05F" stroke-width="4.4" stroke-linejoin="round"/>
<rect x="1826" y="900" width="14.6" height="14.6" fill="none" stroke="#F2A05F" stroke-width="4.4" stroke-linejoin="round"/>
<rect x="1871.7" y="871.8" width="14.6" height="14.6" fill="none" stroke="#F2A05F" stroke-width="4.4" stroke-linejoin="round"/>
<rect x="1917.4" y="840.2" width="14.6" height="14.6" fill="none" stroke="#F2A05F" stroke-width="4.4" stroke-linejoin="round"/>
<text x="1505.5" y="1223.6" font-size="34" fill="#85B9D9">-5.6 pm MPa<tspan font-size="21.1" dy="-12.2">-1</tspan><tspan dy="12.2"> (R</tspan><tspan font-size="21.1" dy="-12.2">2</tspan><tspan dy="12.2"> = 98.9%)</tspan></text>
<text x="1471" y="1128" font-size="33.8" fill="#F2A05F" transform="rotate(-36 1471 1128)">4188.4 pm MPa<tspan font-size="21" dy="-12.2">-1</tspan><tspan dy="12.2"> (R</tspan><tspan font-size="21" dy="-12.2">2</tspan><tspan dy="12.2"> = 99.9%)</tspan></text>
<text x="1876" y="958" font-size="42.5" fill="#F2A05F">FPI</text>
<text x="1866" y="1137.5" font-size="42.5" fill="#85B9D9">FBG</text>
<rect x="1411" y="789.8" width="569.4" height="458.6" fill="none" stroke="#000" stroke-width="3.2"/>
<path d="M1467.9 1246.9v-8M1582.1 1246.9v-8M1696.3 1246.9v-8M1810.5 1246.9v-8M1924.7 1246.9v-8" stroke="#000" stroke-width="3.2" fill="none"/>
<path d="M1412.4 1171.7h8M1412.4 1094.5h8M1412.4 1017.3h8M1412.4 940.1h8M1412.4 862.9h8" stroke="#000" stroke-width="3.2" fill="none"/>
<text x="1400.2" y="1181.3" font-size="29.6" text-anchor="end">0</text>
<text x="1400.2" y="1104.1" font-size="29.6" text-anchor="end">2</text>
<text x="1400.2" y="1026.9" font-size="29.6" text-anchor="end">4</text>
<text x="1400.2" y="949.7" font-size="29.6" text-anchor="end">6</text>
<text x="1400.2" y="872.5" font-size="29.6" text-anchor="end">8</text>
<text x="1467.9" y="1281.6" font-size="29" text-anchor="middle">0.0</text>
<text x="1582.1" y="1281.6" font-size="29" text-anchor="middle">0.5</text>
<text x="1696.3" y="1281.6" font-size="29" text-anchor="middle">1.0</text>
<text x="1810.5" y="1281.6" font-size="29" text-anchor="middle">1.5</text>
<text x="1924.7" y="1281.6" font-size="29" text-anchor="middle">2.0</text>
<text x="1695.5" y="1335.2" font-size="35.4" text-anchor="middle">Pressure (MPa)</text>
<text x="1372.5" y="1020" font-size="35.5" text-anchor="middle" transform="rotate(-90 1372.5 1020)"><tspan font-family='"Liberation Serif", serif' font-weight="normal" font-size="40.5">Δλ</tspan> (nm)</text>
<text x="1331.5" y="787.9" font-size="50">d</text>
<rect x="1458.2" y="812.4" width="15.4" height="15.4" fill="none" stroke="#F2A05F" stroke-width="4.4" stroke-linejoin="round"/>
<rect x="1458.2" y="845" width="15.4" height="15.4" fill="none" stroke="#85B9D9" stroke-width="4.4" stroke-linejoin="round"/>
<path d="M1437 885.6h58" stroke="#F2A05F" stroke-width="5.4" fill="none"/>
<path d="M1437 918.6h58" stroke="#85B9D9" stroke-width="5.4" fill="none"/>
<text x="1503" y="828.7" font-size="26">FPI</text>
<text x="1503" y="861.3" font-size="26">FBG</text>
<text x="1503" y="894.3" font-size="26">Linear fitting</text>
<text x="1503" y="927.3" font-size="26">Linear fitting</text>
<rect x="199.1" y="1468.9" width="482.1" height="460" fill="#FDF2EA"/>
<rect x="694.4" y="1468.9" width="241.6" height="460" fill="#E2EEF6"/>
<rect x="948.8" y="1468.9" width="158.1" height="460" fill="#FDF2EA"/>
<rect x="1120.1" y="1468.9" width="124.8" height="460" fill="#E2EEF6"/>
<clipPath id="ce"><rect x="186.3" y="1468.9" width="1081" height="457.4"/></clipPath>
<g clip-path="url(#ce)">
<path d="M202.8 1766L205.4 1719.5L206.1 1708.4L206.7 1702.3L208.2 1690L211 1664.5L211.3 1662.6L212.2 1660L213 1658.4L214 1657L214.6 1656.4L215.9 1655.5L222.1 1652.9L224.9 1651.3L238.2 1640.6L245.7 1633.6L249.8 1630.2L255.3 1626.2L257.7 1624.8L260 1623.8L263.6 1622.8L273.8 1620.7L302.6 1615.7L311.1 1613.7L328.9 1609.2L350.7 1604.4L359.6 1602.2L377.4 1597.2L389.8 1593.4L394.8 1591.7L398.8 1590.1L403.2 1588L406 1586.5L409.6 1584.2L411.9 1582.5L413.8 1580.8L415.4 1579.1L417.5 1576.5L419.3 1573.6L420.8 1570.5L422 1567.6L423 1564.5L423.9 1560.9L424.7 1557L426 1547.1L426.8 1537.6L428 1517.2L428.6 1509.9L429.2 1508.3L429.7 1507.8L431 1507.4L432.5 1507.2L435.2 1507.3L437.8 1507.7L438.5 1508.2L439.1 1509.6L439.7 1516.2L440.4 1530L441.2 1540.7L442.1 1550.8L442.9 1557.7L444.2 1566.6L445.5 1573L446.9 1578.3L449.6 1587.1L450 1589.3L450.5 1599.6L451.1 1657.4L451.5 1664.4L451.9 1666L452.4 1666.9L453 1667.6L453.8 1668.2L455.4 1668.7L477 1671.4L486.4 1672.8L495 1674.5L512 1678.5L534.7 1683.4L542.7 1684.9L571.8 1689.6L580.7 1691.5L589.9 1694L602.3 1697.7L608.5 1699.9L611.6 1701.1L617.2 1703.8L622.4 1707L627.5 1710.6L632.8 1714.8L638.4 1719.9L643.6 1725.1L650.8 1732.5L655 1737.5L658.7 1742.6L660.8 1746.2L662.7 1749.9L664.8 1755.8L666.7 1762.5L668.5 1770.5L670.7 1781.9L673.4 1800.2L674.9 1813L676.1 1830.9L678.3 1878.2L678.6 1881L678.8 1877.6L680 1841.6L680.6 1831.4L680.9 1827.7L681.7 1824L682.6 1821.3L683.4 1819.7L685.5 1816L686.7 1813.2L687.2 1811.5L687.6 1808.3L688.1 1795.8L689.4 1735L690.8 1695.1L691.7 1676.3L692.8 1659.4L693.8 1649.4L694.3 1646.8L694.9 1644.4L701.1 1629.9L704.6 1622.3L707.5 1617L710.3 1612.9L712.4 1610.3L716.4 1606L719.5 1603.1L723 1600.5L724.9 1599.3L729.1 1597L733.4 1595L740.3 1592.2L750 1588.8L762.7 1584.1L768.5 1581.7L773.4 1579.3L778 1576.6L783.4 1572.5L787.6 1568.6L790.4 1565.3L793 1561.6L795 1557.7L796.3 1553.8L797.4 1549.3L798.6 1542L799.2 1535.2L799.8 1525L800.1 1513.1L800.3 1510.7L800.7 1509L801 1508.2L801.7 1507.4L802.5 1507L804.4 1506.9L805.5 1507.2L806.1 1507.6L806.6 1508.2L807 1509L807.4 1510.7L807.6 1513L807.8 1525L808.6 1544.3L809.2 1554.2L810 1563.1L811 1571.5L812.3 1579.5L813.2 1583.9L816.5 1596.4L817.1 1600.4L817.4 1617.3L817.6 1670.2L818 1682L818.6 1685L819.1 1686.1L819.7 1687.1L820.6 1688L821.7 1688.7L823.1 1689.4L830 1692L845.9 1698.7L856.1 1702.6L864.7 1706.2L868 1707.8L874 1711L881.8 1715.6L886.7 1719.2L891.7 1723.2L896.8 1727.8L900 1731L904.4 1735.9L907.1 1739.3L909.5 1742.6L912.6 1747.6L915.4 1752.8L917.2 1756.6L918.7 1760.5L920 1764.5L921.1 1768.6L922.5 1775L924.2 1786.2L926.1 1803.8L927.5 1824.4L928.3 1841.2L929.4 1881L929.7 1871.6L930.6 1801.7L931.2 1784.9L931.7 1778L932.7 1772L933.8 1768.5L936 1764.8L936.7 1763.1L937.3 1760.3L937.8 1755.6L939 1692.5L940.1 1654.4L941.4 1631.7L942 1626L943.3 1618.8L944.2 1615.5L945.2 1612.7L946.9 1608.8L948.7 1605.1L950.8 1601.6L952.2 1599.5L956.2 1594.6L960.7 1589.8L966 1585L970 1581.9L976.2 1577.6L984.8 1571.3L992.5 1565L995.3 1562.4L997.7 1559.7L999.7 1557.1L1001.6 1554.4L1004.4 1549.7L1006.1 1546.2L1007.6 1542.5L1008.8 1538.5L1009.8 1534.3L1011 1527.8L1013.1 1509.5L1013.6 1508.3L1014.5 1507.3L1015.8 1507L1016.5 1507.1L1017 1507.4L1017.7 1508.6L1018.1 1510.7L1018.5 1525L1019.2 1542.5L1020 1555.6L1021 1567.9L1021.9 1576.6L1023 1584.2L1025 1594L1026.4 1598.9L1026.8 1602L1027.1 1621.2L1027.3 1683L1027.7 1695.5L1028.1 1699.8L1028.7 1701.9L1029.4 1703.4L1030.4 1704.8L1032.1 1706.5L1033.5 1707.4L1040 1711L1045.9 1714.7L1058 1722.8L1064.1 1727.5L1071.5 1734.4L1076.8 1740L1080.4 1744.6L1082.8 1747.7L1084.9 1751L1086.8 1754.2L1090 1761L1091.5 1764.8L1092.8 1768.8L1094 1773L1095.2 1778.3L1096.1 1784L1097.5 1793.9L1098.9 1806.3L1099.6 1815L1100.1 1824.7L1101.8 1881L1102 1875.5L1102.9 1805L1103.3 1789.2L1103.8 1775L1104.6 1761.8L1105.8 1752L1107.2 1745L1109.4 1739L1109.9 1736.3L1110.2 1733.4L1110.7 1722.8L1111.4 1674L1112.3 1648.8L1113.8 1626.3L1114.7 1617.5L1115.7 1610.4L1117.5 1602.5L1119.5 1596L1122 1589.9L1125.2 1584.1L1127.9 1579.9L1131.8 1575L1138 1568L1144.5 1561.4L1147.4 1558L1149.7 1554.9L1151.7 1551.8L1154.4 1546.5L1157 1540.3L1158.4 1536L1159.5 1532L1161.5 1522.1L1163.4 1509.3L1163.9 1508L1164.6 1507.5L1166 1507.1L1167.8 1507L1168.8 1507.2L1169.3 1507.6L1169.7 1508.2L1170.3 1510.7L1170.6 1515.8L1170.8 1525L1171.8 1548L1172.7 1561.6L1173.5 1570.8L1174.4 1579.1L1175.6 1585.8L1177.6 1593.5L1179.1 1597.5L1179.5 1600.3L1179.7 1604.3L1179.9 1618.3L1180.2 1694.7L1180.6 1708.5L1181.2 1713.3L1182.1 1716.8L1183 1719L1184.3 1721.1L1186 1723L1189.6 1726.4L1197.1 1732.1L1202.5 1736.7L1209.9 1743.8L1213.5 1748L1216.7 1752.8L1219.5 1758L1222.2 1763.8L1224.6 1770L1226.5 1777.2L1229.2 1791.6L1230.8 1802.3L1231.6 1810.5L1232.3 1819.8L1233 1835L1234.1 1872.1L1234.5 1881L1234.7 1874.6L1235.6 1790L1236.1 1765.4L1237 1748.7L1237.5 1743L1238.2 1738L1239.2 1733.3L1240 1730.6L1241.3 1728.1L1242.5 1726.5L1243.5 1725.6L1245.5 1724.5" fill="none" stroke="#F5B685" stroke-width="8.2" stroke-linecap="round" stroke-linejoin="round"/>
<path d="M203.7 1748.8L204.2 1739.2M205.8 1712.8L206.6 1703.3M209.5 1677.4L210.6 1667.9M220.6 1653.6L223.8 1652L228.6 1648.4M238.1 1640.7L245.2 1634.1M255.3 1626.2L260 1623.8L264.2 1622.7M273.9 1620.7L283.3 1618.9M292.6 1617.5L302 1615.8M311.3 1613.7L320.6 1611.3M329.9 1609L339.3 1606.9M348.6 1604.9L357.9 1602.7M367.2 1600.1L376.5 1597.5M385.8 1594.6L394.9 1591.6M404.2 1587.5L408.5 1585L412.2 1582.2M420.6 1570.9L422.3 1566.6L423.7 1561.8M426.8 1537.3L427.4 1527.8M432.5 1507.2L435.2 1507.3L438.2 1507.9L438.9 1508.8L439.3 1511.5M440.5 1532.1L441.2 1541.7M444.4 1567.4L446.5 1576.8M450.5 1600.9L450.6 1610.5M450.9 1637.1L450.9 1646.7M455.1 1668.7L464.7 1669.8M473.9 1671L483.4 1672.3M492.6 1674L502 1676.2M511.3 1678.3L520.7 1680.4M530 1682.4L539.4 1684.3M548.7 1685.8L558.2 1687.3M567.4 1688.8L576.9 1690.6M586.1 1692.9L595.3 1695.6M604.7 1698.5L608.5 1699.9L613.6 1702M622.9 1707.3L630.6 1713M640.1 1721.6L646.9 1728.4M656.5 1739.5L659.8 1744.4L661.6 1747.6M667.9 1767.5L669.8 1776.9M673.6 1801.9L674.7 1811.4M676.5 1837.6L677 1847.1M678.2 1873.6L678.5 1880.2L678.6 1881L678.8 1878.9M679.6 1852.4L680 1842.8M684.1 1818.5L686.5 1813.9L687.2 1811.5L687.5 1809.6M688.4 1784.7L688.5 1775.1M689.1 1748.6L689.3 1739M690.1 1712.5L690.5 1702.9M691.7 1676.5L692.3 1666.9M696 1641.8L699.8 1633M708.7 1615.2L711.3 1611.6L714.7 1607.7M725.4 1599L733.9 1594.7M743.7 1591L752.7 1587.8M762.2 1584.3L771 1580.5M780.3 1574.9L784.5 1571.5L787.6 1568.7M795.8 1555.5L797 1551L798 1546.1M799.9 1520.6L800.3 1511M807.7 1519.8L808 1529.4M809.3 1555.8L810.2 1565.3M814.9 1590.1L816.5 1596.4L817 1599.5M817.4 1625.3L817.4 1634.9M817.5 1661.5L817.6 1671.1M824.3 1689.9L833.3 1693.4M842.7 1697.4L851.6 1700.9M861.1 1704.7L869.8 1708.7M879.3 1714.1L887.2 1719.5M896.7 1727.7L903.3 1734.6M912.4 1747.2L916.8 1755.8M922.8 1776.8L924.2 1786.3M926.8 1812.1L927.4 1821.7M928.5 1848.1L928.7 1857.7M929.5 1877.8L929.7 1868.2M930.1 1841.7L930.2 1832.1M930.6 1805.6L930.8 1796M933.3 1770.1L934.2 1767.7L936.4 1764L937.1 1761.4M938.2 1737L938.3 1727.4M938.8 1700.9L939 1691.3M939.7 1664.8L940 1655.2M941.6 1628.8L943.2 1619.4M952 1599.8L954.4 1596.6L958.2 1592.4M968.6 1582.9L976.5 1577.4M986.2 1570.2L993.6 1564M1002.6 1552.8L1005.3 1548L1006.9 1544.3M1011.7 1522.1L1012.7 1512.6M1018.4 1521.4L1018.7 1531M1020.1 1557.4L1020.9 1566.9M1024.6 1592.3L1026.4 1598.9L1026.8 1601.7M1027.1 1627.5L1027.1 1637.1M1027.2 1663.7L1027.2 1673.3M1028.1 1699.7L1028.7 1701.9L1029.8 1704.1L1031 1705.5L1033.4 1707.3M1044.8 1714L1052.9 1719.2M1062.5 1726.2L1069.7 1732.6M1079.1 1742.9L1084.7 1750.7M1092.5 1767.9L1094.9 1777.1M1098.5 1802L1099.3 1811.5M1100.6 1837.9L1100.9 1847.4M1101.5 1874L1101.8 1881L1101.9 1878.4M1102.3 1851.9L1102.4 1842.3M1102.7 1815.8L1102.9 1806.2M1103.6 1779.7L1104.1 1770.1M1107.4 1744.5L1109.1 1740.1L1110 1735.3M1110.8 1709.9L1111 1700.3M1111.4 1673.8L1111.7 1664.2M1112.9 1637.7L1113.6 1628.2M1117.4 1602.8L1118.9 1597.6L1120.4 1593.7M1130.2 1576.9L1136.5 1569.7M1146.5 1559L1149.7 1554.9L1152 1551.2M1159.2 1533L1161.3 1523.7M1168.7 1507.2L1169.5 1507.9L1170 1509L1170.3 1510.7L1170.6 1516.2M1171.5 1541.8L1172 1551.3M1174.2 1577.5L1175.8 1587M1179.8 1611.2L1179.9 1620.8M1180 1647.4L1180 1657M1180.1 1683.5L1180.2 1693.1M1182.8 1718.6L1185.1 1722.1L1189 1725.9M1199.7 1734.2L1206.7 1740.7M1216 1751.8L1220.6 1760.2M1227.1 1780.4L1228.9 1789.8M1232 1815.2L1232.5 1824.8M1233.6 1851.3L1233.8 1860.9M1234.7 1874.7L1234.8 1865.1M1235.1 1838.5L1235.2 1828.9M1235.4 1802.4L1235.6 1792.8M1236.1 1766.3L1236.5 1756.7M1241.1 1733.3L1242.1 1733.5L1243 1734L1245.5 1736.5" fill="none" stroke="#85B9D9" stroke-width="7.8" stroke-linejoin="round"/>
</g>
<text x="404.3" y="1809.5" font-size="42.3" fill="#2E75B6" text-anchor="middle">0.5C</text>
<text x="797" y="1809.5" font-size="42.3" fill="#2E75B6" text-anchor="middle">1C</text>
<text x="1003.5" y="1809.5" font-size="42.3" fill="#2E75B6" text-anchor="middle">1.5C</text>
<text x="1163.5" y="1806.5" font-size="42.3" fill="#2E75B6" text-anchor="middle">2C</text>
<path d="M214.1 1845.4h73.5" stroke="#F5B685" stroke-width="8.4" fill="none"/>
<path d="M214.1 1888h73.5" stroke="#85B9D9" stroke-width="7.8" stroke-dasharray="12.6 20.6" fill="none"/>
<text x="297.8" y="1856.8" font-size="32.6">Cell with sensors</text>
<text x="297.8" y="1899.4" font-size="32.6">Fresh cell</text>
<rect x="186.3" y="1468.9" width="1081" height="457.4" fill="none" stroke="#000" stroke-width="3.2"/>
<path d="M202.8 1924.9v-8M369 1924.9v-8M535.2 1924.9v-8M701.4 1924.9v-8M867.6 1924.9v-8M1033.8 1924.9v-8M1200 1924.9v-8" stroke="#000" stroke-width="3.2" fill="none"/>
<path d="M187.7 1861.1h8M187.7 1777.7h8M187.7 1694.3h8M187.7 1610.9h8M187.7 1527.5h8" stroke="#000" stroke-width="3.2" fill="none"/>
<text x="175.6" y="1871.9" font-size="31.7" text-anchor="end">2.8</text>
<text x="175.6" y="1788.5" font-size="31.7" text-anchor="end">3.0</text>
<text x="175.6" y="1705.1" font-size="31.7" text-anchor="end">3.2</text>
<text x="175.6" y="1621.7" font-size="31.7" text-anchor="end">3.4</text>
<text x="175.6" y="1538.3" font-size="31.7" text-anchor="end">3.6</text>
<text x="202.8" y="1963" font-size="31.7" text-anchor="middle">0</text>
<text x="369" y="1963" font-size="31.7" text-anchor="middle">5000</text>
<text x="535.2" y="1963" font-size="31.7" text-anchor="middle">10000</text>
<text x="701.4" y="1963" font-size="31.7" text-anchor="middle">15000</text>
<text x="867.6" y="1963" font-size="31.7" text-anchor="middle">20000</text>
<text x="1033.8" y="1963" font-size="31.7" text-anchor="middle">25000</text>
<text x="1200" y="1963" font-size="31.7" text-anchor="middle">30000</text>
<text x="727" y="2002.5" font-size="36.1" text-anchor="middle">Time (s)</text>
<text x="102.2" y="1680" font-size="37.5" text-anchor="middle" transform="rotate(-90 102.2 1680)">Voltage (V)</text>
<text x="74" y="1466" font-size="50">e</text>
<g fill="#F5B685">
<circle cx="1497.3" cy="1531.8" r="9.8"/>
<circle cx="1501.9" cy="1533.1" r="9.8"/>
<circle cx="1506.6" cy="1533.6" r="9.8"/>
<circle cx="1511.2" cy="1533.2" r="9.8"/>
<circle cx="1515.8" cy="1532.5" r="9.8"/>
<circle cx="1520.4" cy="1532.9" r="9.8"/>
<circle cx="1525" cy="1536.1" r="9.8"/>
<circle cx="1529.7" cy="1539.3" r="9.8"/>
<circle cx="1534.3" cy="1541.4" r="9.8"/>
<circle cx="1538.9" cy="1542.4" r="9.8"/>
<circle cx="1543.5" cy="1542.4" r="9.8"/>
<circle cx="1548.1" cy="1542.4" r="9.8"/>
<circle cx="1552.8" cy="1543.6" r="9.8"/>
<circle cx="1557.4" cy="1546.2" r="9.8"/>
<circle cx="1562" cy="1548.7" r="9.8"/>
<circle cx="1566.6" cy="1550.8" r="9.8"/>
<circle cx="1571.2" cy="1552.9" r="9.8"/>
<circle cx="1575.9" cy="1555" r="9.8"/>
<circle cx="1580.5" cy="1557.2" r="9.8"/>
<circle cx="1585.1" cy="1559.4" r="9.8"/>
<circle cx="1589.7" cy="1561.8" r="9.8"/>
<circle cx="1594.3" cy="1564.2" r="9.8"/>
<circle cx="1599" cy="1566.8" r="9.8"/>
<circle cx="1603.6" cy="1569.4" r="9.8"/>
<circle cx="1608.2" cy="1572" r="9.8"/>
<circle cx="1612.8" cy="1574.7" r="9.8"/>
<circle cx="1617.4" cy="1577.5" r="9.8"/>
<circle cx="1622.1" cy="1580.3" r="9.8"/>
<circle cx="1626.7" cy="1583.1" r="9.8"/>
<circle cx="1631.3" cy="1585.8" r="9.8"/>
<circle cx="1635.9" cy="1588.5" r="9.8"/>
<circle cx="1640.5" cy="1591.1" r="9.8"/>
<circle cx="1645.2" cy="1593.6" r="9.8"/>
<circle cx="1649.8" cy="1596.1" r="9.8"/>
<circle cx="1654.4" cy="1598.4" r="9.8"/>
<circle cx="1659" cy="1600.6" r="9.8"/>
<circle cx="1663.6" cy="1602.6" r="9.8"/>
<circle cx="1668.3" cy="1604.6" r="9.8"/>
<circle cx="1672.9" cy="1606.6" r="9.8"/>
<circle cx="1677.5" cy="1608.5" r="9.8"/>
<circle cx="1682.1" cy="1610.3" r="9.8"/>
<circle cx="1686.7" cy="1612" r="9.8"/>
<circle cx="1691.4" cy="1613.8" r="9.8"/>
<circle cx="1696" cy="1615.5" r="9.8"/>
<circle cx="1700.6" cy="1617.3" r="9.8"/>
<circle cx="1705.2" cy="1619.1" r="9.8"/>
<circle cx="1709.8" cy="1620.9" r="9.8"/>
<circle cx="1714.5" cy="1622.8" r="9.8"/>
<circle cx="1719.1" cy="1624.7" r="9.8"/>
<circle cx="1723.7" cy="1626.7" r="9.8"/>
<circle cx="1728.3" cy="1628.8" r="9.8"/>
<circle cx="1732.9" cy="1631" r="9.8"/>
<circle cx="1737.6" cy="1633.3" r="9.8"/>
<circle cx="1742.2" cy="1635.7" r="9.8"/>
<circle cx="1746.8" cy="1638" r="9.8"/>
<circle cx="1751.4" cy="1640.4" r="9.8"/>
<circle cx="1756" cy="1642.8" r="9.8"/>
<circle cx="1760.7" cy="1645.2" r="9.8"/>
<circle cx="1765.3" cy="1647.6" r="9.8"/>
<circle cx="1769.9" cy="1650" r="9.8"/>
<circle cx="1774.5" cy="1652.2" r="9.8"/>
<circle cx="1779.1" cy="1654.3" r="9.8"/>
<circle cx="1783.8" cy="1656.5" r="9.8"/>
<circle cx="1788.4" cy="1658.6" r="9.8"/>
<circle cx="1793" cy="1660.6" r="9.8"/>
<circle cx="1797.6" cy="1662.6" r="9.8"/>
<circle cx="1802.2" cy="1664.6" r="9.8"/>
<circle cx="1806.9" cy="1666.5" r="9.8"/>
<circle cx="1811.5" cy="1668.5" r="9.8"/>
<circle cx="1816.1" cy="1670.7" r="9.8"/>
<circle cx="1820.7" cy="1673.1" r="9.8"/>
<circle cx="1825.3" cy="1675.7" r="9.8"/>
<circle cx="1830" cy="1678.4" r="9.8"/>
<circle cx="1834.6" cy="1681.4" r="9.8"/>
<circle cx="1839.2" cy="1684.5" r="9.8"/>
<circle cx="1843.8" cy="1688" r="9.8"/>
<circle cx="1848.4" cy="1691.7" r="9.8"/>
<circle cx="1853.1" cy="1695.7" r="9.8"/>
<circle cx="1857.7" cy="1700.1" r="9.8"/>
<circle cx="1862.3" cy="1704.7" r="9.8"/>
<circle cx="1866.9" cy="1709.7" r="9.8"/>
<circle cx="1871.5" cy="1715.2" r="9.8"/>
<circle cx="1876.2" cy="1721.1" r="9.8"/>
<circle cx="1880.8" cy="1727.2" r="9.8"/>
<circle cx="1885.4" cy="1733.6" r="9.8"/>
<circle cx="1890" cy="1740.2" r="9.8"/>
<circle cx="1894.6" cy="1747.1" r="9.8"/>
<circle cx="1899.3" cy="1754.3" r="9.8"/>
<circle cx="1903.9" cy="1761.8" r="9.8"/>
<circle cx="1908.5" cy="1769.4" r="9.8"/>
<circle cx="1913.1" cy="1777.3" r="9.8"/>
<circle cx="1917.7" cy="1785.5" r="9.8"/>
<circle cx="1922.4" cy="1793.9" r="9.8"/>
<circle cx="1927" cy="1802.6" r="9.8"/>
<circle cx="1931.6" cy="1811.6" r="9.8"/>
<circle cx="1936.2" cy="1821" r="9.8"/>
<circle cx="1940.8" cy="1830.9" r="9.8"/>
<circle cx="1945.5" cy="1841.3" r="9.8"/>
<circle cx="1950.1" cy="1851.2" r="9.8"/>
<circle cx="1954.7" cy="1860.4" r="9.8"/>
<circle cx="1959.3" cy="1869.2" r="9.8"/>
<circle cx="1963.9" cy="1877.6" r="9.8"/>
</g>
<g fill="#fff" stroke="#85B9D9" stroke-width="2.6">
<circle cx="1497.3" cy="1529.2" r="8.3"/>
<circle cx="1501.9" cy="1526.9" r="8.3"/>
<circle cx="1506.6" cy="1524.8" r="8.3"/>
<circle cx="1511.2" cy="1522.9" r="8.3"/>
<circle cx="1515.8" cy="1521.3" r="8.3"/>
<circle cx="1520.4" cy="1521.4" r="8.3"/>
<circle cx="1525" cy="1523.7" r="8.3"/>
<circle cx="1529.7" cy="1526.1" r="8.3"/>
<circle cx="1534.3" cy="1528.1" r="8.3"/>
<circle cx="1538.9" cy="1529.2" r="8.3"/>
<circle cx="1543.5" cy="1528.6" r="8.3"/>
<circle cx="1548.1" cy="1528" r="8.3"/>
<circle cx="1552.8" cy="1529.1" r="8.3"/>
<circle cx="1557.4" cy="1531.6" r="8.3"/>
<circle cx="1562" cy="1534.3" r="8.3"/>
<circle cx="1566.6" cy="1536.6" r="8.3"/>
<circle cx="1571.2" cy="1539.1" r="8.3"/>
<circle cx="1575.9" cy="1541.6" r="8.3"/>
<circle cx="1580.5" cy="1544.2" r="8.3"/>
<circle cx="1585.1" cy="1546.8" r="8.3"/>
<circle cx="1589.7" cy="1549.4" r="8.3"/>
<circle cx="1594.3" cy="1552" r="8.3"/>
<circle cx="1599" cy="1554.6" r="8.3"/>
<circle cx="1603.6" cy="1557.2" r="8.3"/>
<circle cx="1608.2" cy="1560" r="8.3"/>
<circle cx="1612.8" cy="1563" r="8.3"/>
<circle cx="1617.4" cy="1566.2" r="8.3"/>
<circle cx="1622.1" cy="1569.5" r="8.3"/>
<circle cx="1626.7" cy="1572.7" r="8.3"/>
<circle cx="1631.3" cy="1575.8" r="8.3"/>
<circle cx="1635.9" cy="1578.7" r="8.3"/>
<circle cx="1640.5" cy="1581.6" r="8.3"/>
<circle cx="1645.2" cy="1584.4" r="8.3"/>
<circle cx="1649.8" cy="1587.1" r="8.3"/>
<circle cx="1654.4" cy="1589.6" r="8.3"/>
<circle cx="1659" cy="1591.9" r="8.3"/>
<circle cx="1663.6" cy="1594.1" r="8.3"/>
<circle cx="1668.3" cy="1596.2" r="8.3"/>
<circle cx="1672.9" cy="1598.3" r="8.3"/>
<circle cx="1677.5" cy="1600.3" r="8.3"/>
<circle cx="1682.1" cy="1602.2" r="8.3"/>
<circle cx="1686.7" cy="1604.1" r="8.3"/>
<circle cx="1691.4" cy="1605.9" r="8.3"/>
<circle cx="1696" cy="1607.8" r="8.3"/>
<circle cx="1700.6" cy="1609.7" r="8.3"/>
<circle cx="1705.2" cy="1611.7" r="8.3"/>
<circle cx="1709.8" cy="1613.8" r="8.3"/>
<circle cx="1714.5" cy="1615.9" r="8.3"/>
<circle cx="1719.1" cy="1618.1" r="8.3"/>
<circle cx="1723.7" cy="1620.4" r="8.3"/>
<circle cx="1728.3" cy="1622.9" r="8.3"/>
<circle cx="1732.9" cy="1625.5" r="8.3"/>
<circle cx="1737.6" cy="1628.1" r="8.3"/>
<circle cx="1742.2" cy="1630.9" r="8.3"/>
<circle cx="1746.8" cy="1633.6" r="8.3"/>
<circle cx="1751.4" cy="1636.4" r="8.3"/>
<circle cx="1756" cy="1639.2" r="8.3"/>
<circle cx="1760.7" cy="1642" r="8.3"/>
<circle cx="1765.3" cy="1644.7" r="8.3"/>
<circle cx="1769.9" cy="1647.4" r="8.3"/>
<circle cx="1774.5" cy="1650" r="8.3"/>
<circle cx="1779.1" cy="1652.5" r="8.3"/>
<circle cx="1783.8" cy="1655" r="8.3"/>
<circle cx="1788.4" cy="1657.4" r="8.3"/>
<circle cx="1793" cy="1660" r="8.3"/>
<circle cx="1797.6" cy="1662.6" r="8.3"/>
<circle cx="1802.2" cy="1665.3" r="8.3"/>
<circle cx="1806.9" cy="1668" r="8.3"/>
<circle cx="1811.5" cy="1670.8" r="8.3"/>
<circle cx="1816.1" cy="1673.8" r="8.3"/>
<circle cx="1820.7" cy="1677" r="8.3"/>
<circle cx="1825.3" cy="1680.4" r="8.3"/>
<circle cx="1830" cy="1684" r="8.3"/>
<circle cx="1834.6" cy="1687.6" r="8.3"/>
<circle cx="1839.2" cy="1691.5" r="8.3"/>
<circle cx="1843.8" cy="1695.4" r="8.3"/>
<circle cx="1848.4" cy="1699.5" r="8.3"/>
<circle cx="1853.1" cy="1703.8" r="8.3"/>
<circle cx="1857.7" cy="1708.3" r="8.3"/>
<circle cx="1862.3" cy="1712.8" r="8.3"/>
<circle cx="1866.9" cy="1717.5" r="8.3"/>
<circle cx="1871.5" cy="1722.3" r="8.3"/>
<circle cx="1876.2" cy="1727.3" r="8.3"/>
<circle cx="1880.8" cy="1732.5" r="8.3"/>
<circle cx="1885.4" cy="1738" r="8.3"/>
<circle cx="1890" cy="1743.7" r="8.3"/>
<circle cx="1894.6" cy="1749.8" r="8.3"/>
<circle cx="1899.3" cy="1756.1" r="8.3"/>
<circle cx="1903.9" cy="1762.6" r="8.3"/>
<circle cx="1908.5" cy="1769.4" r="8.3"/>
<circle cx="1913.1" cy="1776.6" r="8.3"/>
<circle cx="1917.7" cy="1784.1" r="8.3"/>
<circle cx="1922.4" cy="1792.1" r="8.3"/>
<circle cx="1927" cy="1800.3" r="8.3"/>
<circle cx="1931.6" cy="1809.1" r="8.3"/>
<circle cx="1936.2" cy="1818.5" r="8.3"/>
<circle cx="1940.8" cy="1828.7" r="8.3"/>
<circle cx="1945.5" cy="1839.8" r="8.3"/>
<circle cx="1950.1" cy="1851.2" r="8.3"/>
<circle cx="1954.7" cy="1862.9" r="8.3"/>
<circle cx="1959.3" cy="1875" r="8.3"/>
</g>
<circle cx="1499" cy="1821.7" r="9.9" fill="#F5B685"/>
<circle cx="1499" cy="1862.4" r="8.3" fill="#fff" stroke="#85B9D9" stroke-width="2.6"/>
<text x="1545.7" y="1833" font-size="33.1">Cell with sensors</text>
<text x="1545.7" y="1873.8" font-size="33.1">Fresh cell</text>
<rect x="1469.8" y="1475.2" width="530.5" height="440.2" fill="none" stroke="#000" stroke-width="3.4"/>
<path d="M1492.7 1913.9v-10.9M1585.1 1913.9v-10.9M1677.5 1913.9v-10.9M1769.9 1913.9v-10.9M1862.3 1913.9v-10.9M1954.7 1913.9v-10.9" stroke="#000" stroke-width="3.4" fill="none"/>
<path d="M1471.3 1883.8h10.8M1471.3 1758.1h10.8M1471.3 1632.3h10.8M1471.3 1506.6h10.8" stroke="#000" stroke-width="3.4" fill="none"/>
<text x="1455.5" y="1894" font-size="28.5" text-anchor="end">1200</text>
<text x="1455.5" y="1768.3" font-size="28.5" text-anchor="end">1300</text>
<text x="1455.5" y="1642.5" font-size="28.5" text-anchor="end">1400</text>
<text x="1455.5" y="1516.8" font-size="28.5" text-anchor="end">1500</text>
<text x="1492.7" y="1951.2" font-size="28.5" text-anchor="middle">0</text>
<text x="1585.1" y="1951.2" font-size="28.5" text-anchor="middle">20</text>
<text x="1677.5" y="1951.2" font-size="28.5" text-anchor="middle">40</text>
<text x="1769.9" y="1951.2" font-size="28.5" text-anchor="middle">60</text>
<text x="1862.3" y="1951.2" font-size="28.5" text-anchor="middle">80</text>
<text x="1954.7" y="1951.2" font-size="28.5" text-anchor="middle">100</text>
<text x="1735.6" y="1989" font-size="36.3" text-anchor="middle">Cycle number</text>
<text x="1377" y="1695" font-size="34.2" text-anchor="middle" transform="rotate(-90 1377 1695)">Discharge capacity (mAh)</text>
<text x="1322" y="1465.2" font-size="50">f</text>
<rect x="345.8" y="11.8" width="709.2" height="81.5" rx="21" fill="#fff" filter="url(#sh)"/><rect x="355.6" y="21.6" width="689.6" height="62" rx="13.5" fill="#83B3D1"/>
<text x="459.8" y="71.4" font-size="46.25" fill="#fff"><tspan font-style="italic">T</tspan> calibration: FBG-FPI</text>
<rect x="352.9" y="682" width="709.3" height="82.4" rx="21" fill="#fff" filter="url(#sh)"/><rect x="363.4" y="691.5" width="689.3" height="62.6" rx="13.5" fill="#83B3D1"/>
<text x="464.5" y="741.6" font-size="46.25" fill="#fff"><tspan font-style="italic">P</tspan> calibration: FBG-FPI</text>
<rect x="185" y="1356.3" width="1081" height="88.7" rx="21" fill="#fff" filter="url(#sh)"/><rect x="195.5" y="1367" width="1060.3" height="67" rx="13.5" fill="#83B3D1"/>
<text x="222.2" y="1419.5" font-size="46.36" fill="#fff">Cell performances with &amp; without fiber sensor</text>
</svg>
</body></html>
